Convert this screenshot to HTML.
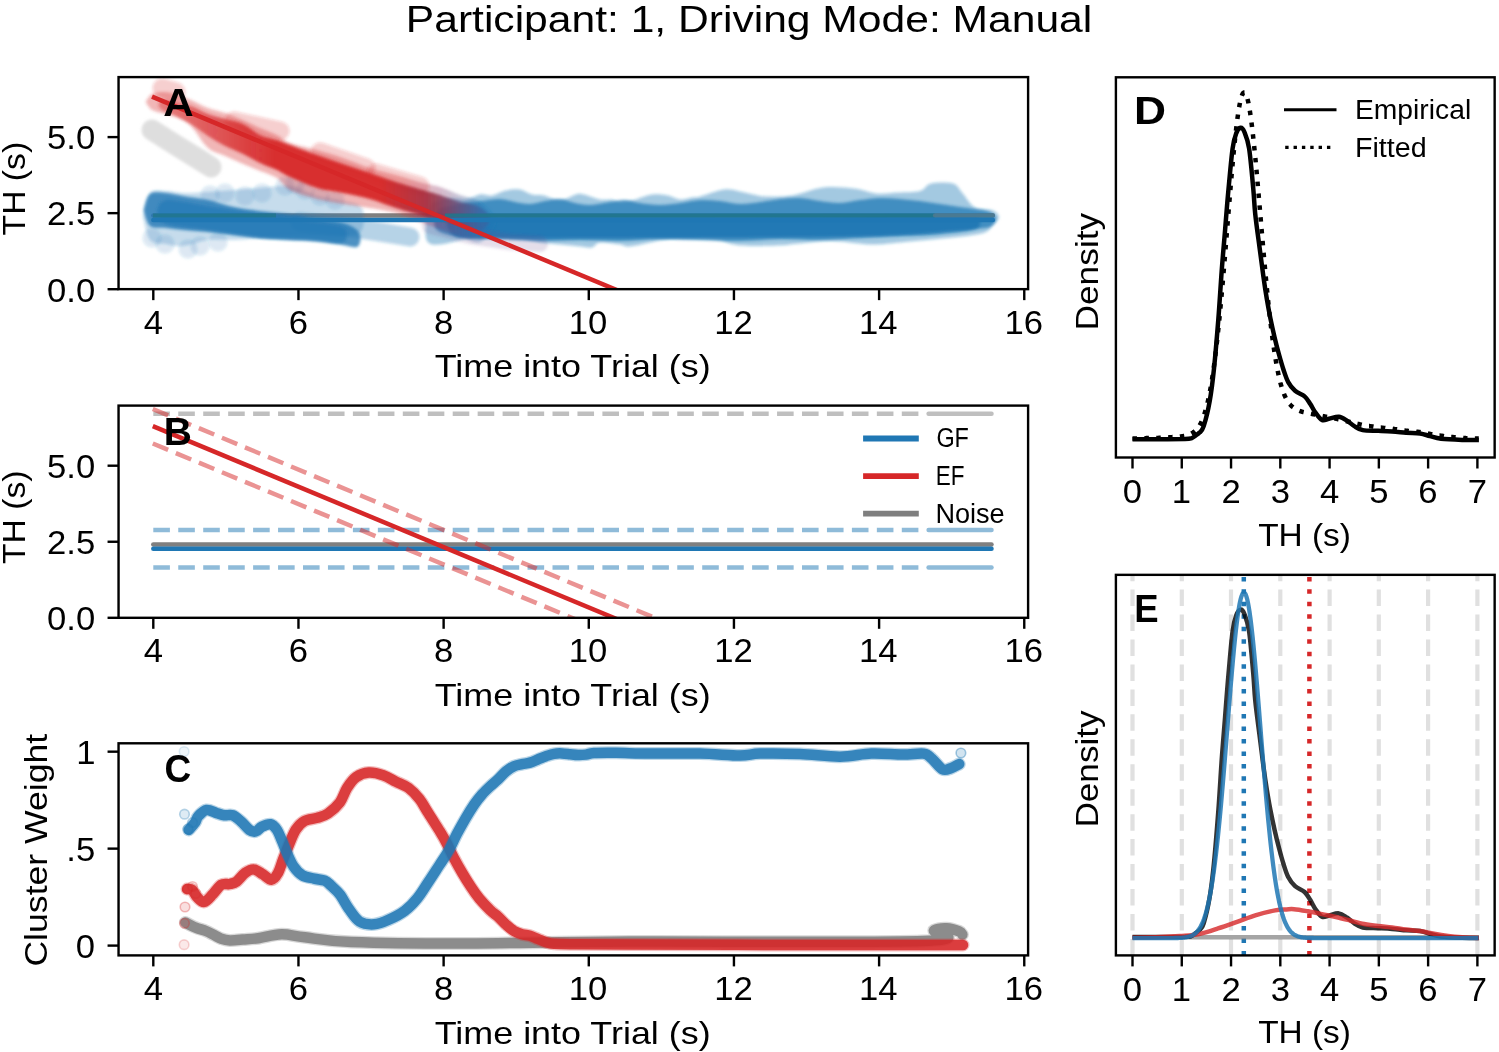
<!DOCTYPE html>
<html><head><meta charset="utf-8"><style>
html,body{margin:0;padding:0;background:#fff;overflow:hidden;width:1499px;height:1052px;}
svg{display:block;will-change:transform;}
text{font-family:"Liberation Sans", sans-serif;}
</style></head><body>
<svg width="1499" height="1052" viewBox="0 0 1499 1052">
<rect width="1499" height="1052" fill="#fff"/>
<defs>
<filter id="bl" filterUnits="userSpaceOnUse" x="0" y="0" width="1499" height="1052"><feGaussianBlur stdDeviation="1.6"/></filter>
<clipPath id="clipA"><rect x="118.55" y="77.10" width="909.55" height="212.05"/></clipPath>
<clipPath id="clipB"><rect x="118.55" y="405.60" width="909.55" height="212.20"/></clipPath>
<clipPath id="clipC"><rect x="118.55" y="743.30" width="909.55" height="212.10"/></clipPath>
<clipPath id="clipD"><rect x="1115.90" y="77.30" width="378.75" height="380.20"/></clipPath>
<clipPath id="clipE"><rect x="1115.90" y="574.85" width="378.75" height="380.55"/></clipPath>
</defs>
<text x="405.81" y="31.60" font-size="36.5" textLength="686.44" lengthAdjust="spacingAndGlyphs" fill="#000">Participant: 1, Driving Mode: Manual</text>
<g clip-path="url(#clipA)">
<line x1="153.3" y1="215.4" x2="992.8" y2="215.4" stroke="#7f7f7f" stroke-width="4.5" stroke-linecap="round"/>
<polyline points="152.0,130.0 174.0,144.0 200.0,160.0 211.0,167.0" fill="none" stroke="#d6d6d6" stroke-width="21" stroke-linecap="round" stroke-linejoin="round" stroke-opacity="0.8" filter="url(#bl)"/>
<path d="M142.9,216.5 C144.1,212.6 146.2,197.2 150.0,193.0 C153.8,188.8 160.5,191.0 166.0,191.0 C171.5,191.0 176.0,192.8 183.0,193.0 C190.0,193.2 199.5,192.5 208.0,192.0 C216.5,191.5 225.3,190.7 234.0,190.0 C242.7,189.3 250.7,188.7 260.0,188.0 C269.3,187.3 280.5,184.7 290.0,186.0 C299.5,187.3 308.2,193.5 317.0,196.0 C325.8,198.5 335.8,199.3 343.0,201.0 C350.2,202.7 356.5,203.0 360.0,206.0 C363.5,209.0 363.9,214.7 363.9,219.0 C363.9,223.3 363.5,229.2 360.0,232.0 C356.5,234.8 350.2,235.3 343.0,236.0 C335.8,236.7 325.8,236.0 317.0,236.0 C308.2,236.0 299.5,235.7 290.0,236.0 C280.5,236.3 269.3,237.3 260.0,238.0 C250.7,238.7 242.7,239.7 234.0,240.0 C225.3,240.3 216.5,239.0 208.0,240.0 C199.5,241.0 190.0,245.3 183.0,246.0 C176.0,246.7 171.5,245.0 166.0,244.0 C160.5,243.0 153.8,244.6 150.0,240.0 C146.2,235.4 144.1,220.4 142.9,216.5 Z" fill="#1f77b4" fill-opacity="0.26" filter="url(#bl)"/>
<polyline points="300.0,222.0 340.0,226.0 380.0,232.0 410.0,237.0" fill="none" stroke="#1f77b4" stroke-width="19" stroke-linecap="round" stroke-linejoin="round" stroke-opacity="0.32" filter="url(#bl)"/>
<circle cx="152" cy="238" r="9.5" fill="#1f77b4" fill-opacity="0.16" filter="url(#bl)"/>
<circle cx="165" cy="244" r="9.5" fill="#1f77b4" fill-opacity="0.16" filter="url(#bl)"/>
<circle cx="188" cy="249" r="9.5" fill="#1f77b4" fill-opacity="0.16" filter="url(#bl)"/>
<circle cx="200" cy="246" r="9.5" fill="#1f77b4" fill-opacity="0.16" filter="url(#bl)"/>
<circle cx="218" cy="242" r="9.5" fill="#1f77b4" fill-opacity="0.16" filter="url(#bl)"/>
<circle cx="210" cy="195" r="9.5" fill="#1f77b4" fill-opacity="0.16" filter="url(#bl)"/>
<circle cx="225" cy="193" r="9.5" fill="#1f77b4" fill-opacity="0.16" filter="url(#bl)"/>
<circle cx="245" cy="196" r="9.5" fill="#1f77b4" fill-opacity="0.16" filter="url(#bl)"/>
<circle cx="262" cy="193" r="9.5" fill="#1f77b4" fill-opacity="0.16" filter="url(#bl)"/>
<circle cx="285" cy="186" r="9.5" fill="#1f77b4" fill-opacity="0.16" filter="url(#bl)"/>
<circle cx="295" cy="184" r="9.5" fill="#1f77b4" fill-opacity="0.16" filter="url(#bl)"/>
<circle cx="305" cy="190" r="9.5" fill="#1f77b4" fill-opacity="0.16" filter="url(#bl)"/>
<circle cx="320" cy="196" r="9.5" fill="#1f77b4" fill-opacity="0.16" filter="url(#bl)"/>
<circle cx="335" cy="200" r="9.5" fill="#1f77b4" fill-opacity="0.16" filter="url(#bl)"/>
<path d="M432.0,202.5 C435.0,201.8 444.3,199.0 450.0,198.5 C455.7,198.0 461.0,200.2 466.0,199.5 C471.0,198.8 475.7,195.2 480.0,194.5 C484.3,193.8 487.7,196.2 492.0,195.5 C496.3,194.8 501.3,191.5 506.0,190.5 C510.7,189.5 515.7,188.8 520.0,189.5 C524.3,190.2 528.0,193.5 532.0,194.5 C536.0,195.5 539.3,194.5 544.0,195.5 C548.7,196.5 554.7,200.7 560.0,200.5 C565.3,200.3 572.0,195.5 576.0,194.5 C580.0,193.5 580.0,193.7 584.0,194.5 C588.0,195.3 595.3,198.7 600.0,199.5 C604.7,200.3 608.7,199.0 612.0,199.5 C615.3,200.0 616.7,202.3 620.0,202.5 C623.3,202.7 626.7,201.8 632.0,200.5 C637.3,199.2 646.0,195.3 652.0,194.5 C658.0,193.7 663.3,194.7 668.0,195.5 C672.7,196.3 676.0,199.2 680.0,199.5 C684.0,199.8 688.7,198.0 692.0,197.5 C695.3,197.0 694.7,197.8 700.0,196.5 C705.3,195.2 717.3,190.3 724.0,189.5 C730.7,188.7 735.2,190.7 740.0,191.5 C744.8,192.3 748.7,193.7 753.0,194.5 C757.3,195.3 759.5,196.3 766.0,196.5 C772.5,196.7 782.5,197.0 792.0,195.5 C801.5,194.0 812.7,188.7 823.0,187.5 C833.3,186.3 845.2,187.5 854.0,188.5 C862.8,189.5 868.7,192.8 876.0,193.5 C883.3,194.2 890.7,192.9 898.0,192.5 C905.3,192.1 914.5,192.5 920.0,191.0 C925.5,189.5 925.5,184.8 931.0,183.5 C936.5,182.2 947.8,182.0 953.0,183.5 C958.2,185.0 958.3,188.5 962.0,192.5 C965.7,196.5 969.8,204.5 975.0,207.5 C980.2,210.5 989.0,208.8 993.0,210.5 C997.0,212.2 999.0,215.2 999.0,217.5 C999.0,219.8 995.2,222.1 993.0,224.5 C990.8,226.9 989.8,230.3 986.0,232.1 C982.2,233.9 977.3,234.4 970.0,235.5 C962.7,236.6 953.7,237.3 942.0,238.5 C930.3,239.7 912.0,241.5 900.0,242.5 C888.0,243.5 881.3,244.8 870.0,244.5 C858.7,244.2 843.7,241.2 832.0,241.0 C820.3,240.8 809.2,242.8 800.0,243.5 C790.8,244.2 787.0,245.2 777.0,245.5 C767.0,245.8 749.5,246.3 740.0,245.5 C730.5,244.7 726.7,241.7 720.0,240.5 C713.3,239.3 706.7,238.8 700.0,238.5 C693.3,238.2 686.7,238.2 680.0,238.5 C673.3,238.8 668.3,239.2 660.0,240.5 C651.7,241.8 636.7,245.8 630.0,246.5 C623.3,247.2 625.0,245.2 620.0,244.5 C615.0,243.8 604.7,242.0 600.0,242.5 C595.3,243.0 595.3,246.8 592.0,247.5 C588.7,248.2 585.3,247.0 580.0,246.5 C574.7,246.0 566.7,245.2 560.0,244.5 C553.3,243.8 546.7,243.5 540.0,242.5 C533.3,241.5 530.0,239.5 520.0,238.5 C510.0,237.5 494.7,235.5 480.0,236.5 C465.3,237.5 441.0,246.7 432.0,244.5 C423.0,242.3 426.0,230.5 426.0,223.5 C426.0,216.5 431.0,206.0 432.0,202.5 Z" fill="#1f77b4" fill-opacity="0.4" filter="url(#bl)"/>
<path d="M143.6,210.0 C144.7,207.3 146.3,196.8 150.0,194.0 C153.7,191.2 160.5,192.7 166.0,193.0 C171.5,193.3 176.0,194.8 183.0,196.0 C190.0,197.2 199.5,198.2 208.0,200.0 C216.5,201.8 225.3,205.2 234.0,207.0 C242.7,208.8 250.7,209.8 260.0,211.0 C269.3,212.2 280.5,212.7 290.0,214.0 C299.5,215.3 308.2,217.5 317.0,219.0 C325.8,220.5 336.3,221.2 343.0,223.0 C349.7,224.8 354.1,227.4 357.0,230.0 C359.9,232.6 360.4,235.7 360.4,238.5 C360.4,241.3 359.9,245.9 357.0,247.0 C354.1,248.1 349.7,246.0 343.0,245.0 C336.3,244.0 325.8,241.8 317.0,241.0 C308.2,240.2 299.5,240.5 290.0,240.0 C280.5,239.5 269.3,238.8 260.0,238.0 C250.7,237.2 242.7,236.0 234.0,235.0 C225.3,234.0 216.5,232.8 208.0,232.0 C199.5,231.2 190.0,230.7 183.0,230.0 C176.0,229.3 171.5,228.7 166.0,228.0 C160.5,227.3 153.7,229.0 150.0,226.0 C146.3,223.0 144.7,212.7 143.6,210.0 Z" fill="#1f77b4" fill-opacity="0.8" filter="url(#bl)"/>
<path d="M156.4,212.0 C158.0,210.0 157.4,201.0 166.0,200.0 C174.6,199.0 192.3,203.7 208.0,206.0 C223.7,208.3 244.7,211.7 260.0,214.0 C275.3,216.3 286.7,218.0 300.0,220.0 C313.3,222.0 332.2,223.6 340.0,226.0 C347.8,228.4 346.8,231.7 346.8,234.5 C346.8,237.3 347.8,242.1 340.0,243.0 C332.2,243.9 313.3,240.8 300.0,240.0 C286.7,239.2 275.3,239.7 260.0,238.0 C244.7,236.3 223.7,232.3 208.0,230.0 C192.3,227.7 174.6,227.0 166.0,224.0 C157.4,221.0 158.0,214.0 156.4,212.0 Z" fill="#1f77b4" fill-opacity="0.62" filter="url(#bl)"/>
<path d="M440.0,208.0 C443.3,207.3 453.3,205.2 460.0,204.0 C466.7,202.8 473.3,201.8 480.0,201.0 C486.7,200.2 494.2,198.8 500.0,199.0 C505.8,199.2 510.0,201.2 515.0,202.0 C520.0,202.8 525.0,204.2 530.0,204.0 C535.0,203.8 540.0,201.8 545.0,201.0 C550.0,200.2 555.0,198.7 560.0,199.0 C565.0,199.3 570.0,202.0 575.0,203.0 C580.0,204.0 584.2,205.2 590.0,205.0 C595.8,204.8 604.2,202.8 610.0,202.0 C615.8,201.2 620.0,199.8 625.0,200.0 C630.0,200.2 634.2,202.2 640.0,203.0 C645.8,203.8 653.3,205.0 660.0,205.0 C666.7,205.0 673.3,203.8 680.0,203.0 C686.7,202.2 693.3,200.3 700.0,200.0 C706.7,199.7 713.3,200.3 720.0,201.0 C726.7,201.7 733.3,203.8 740.0,204.0 C746.7,204.2 753.3,202.8 760.0,202.0 C766.7,201.2 773.3,199.7 780.0,199.0 C786.7,198.3 793.3,197.7 800.0,198.0 C806.7,198.3 813.3,200.2 820.0,201.0 C826.7,201.8 833.3,203.2 840.0,203.0 C846.7,202.8 853.3,200.8 860.0,200.0 C866.7,199.2 873.3,198.2 880.0,198.0 C886.7,197.8 893.3,198.5 900.0,199.0 C906.7,199.5 913.3,200.2 920.0,201.0 C926.7,201.8 933.3,203.0 940.0,204.0 C946.7,205.0 954.2,206.2 960.0,207.0 C965.8,207.8 970.0,208.2 975.0,209.0 C980.0,209.8 986.5,210.2 990.0,212.0 C993.5,213.8 996.0,217.0 996.0,219.5 C996.0,222.0 993.5,225.4 990.0,227.0 C986.5,228.6 980.0,228.2 975.0,229.0 C970.0,229.8 967.5,231.0 960.0,232.0 C952.5,233.0 940.0,234.3 930.0,235.0 C920.0,235.7 911.7,235.5 900.0,236.0 C888.3,236.5 873.3,237.3 860.0,238.0 C846.7,238.7 833.3,239.8 820.0,240.0 C806.7,240.2 793.3,238.8 780.0,239.0 C766.7,239.2 753.3,240.8 740.0,241.0 C726.7,241.2 713.3,240.3 700.0,240.0 C686.7,239.7 673.3,238.8 660.0,239.0 C646.7,239.2 633.3,240.8 620.0,241.0 C606.7,241.2 593.3,240.0 580.0,240.0 C566.7,240.0 553.3,241.2 540.0,241.0 C526.7,240.8 511.7,239.5 500.0,239.0 C488.3,238.5 480.0,239.2 470.0,238.0 C460.0,236.8 446.0,235.0 440.0,232.0 C434.0,229.0 434.0,224.0 434.0,220.0 C434.0,216.0 439.0,210.0 440.0,208.0 Z" fill="#1f77b4" fill-opacity="0.72" filter="url(#bl)"/>
<path d="M446.2,225.0 C447.7,223.2 449.4,215.3 455.0,214.0 C460.6,212.7 455.8,216.3 480.0,217.0 C504.2,217.7 546.7,218.0 600.0,218.0 C653.3,218.0 750.0,217.3 800.0,217.0 C850.0,216.7 875.0,216.2 900.0,216.0 C925.0,215.8 937.5,216.0 950.0,216.0 C962.5,216.0 970.0,214.9 975.0,216.0 C980.0,217.1 980.2,220.3 980.2,222.5 C980.2,224.7 980.0,227.6 975.0,229.0 C970.0,230.4 962.5,230.0 950.0,231.0 C937.5,232.0 925.0,234.0 900.0,235.0 C875.0,236.0 850.0,236.5 800.0,237.0 C750.0,237.5 653.3,237.8 600.0,238.0 C546.7,238.2 504.2,238.3 480.0,238.0 C455.8,237.7 460.6,238.2 455.0,236.0 C449.4,233.8 447.7,226.8 446.2,225.0 Z" fill="#1f77b4" fill-opacity="0.9" filter="url(#bl)"/>
<linearGradient id="rg1" gradientUnits="userSpaceOnUse" x1="400" y1="0" x2="480" y2="0"><stop offset="0" stop-color="#d62728"/><stop offset="0.5" stop-color="#8c3566"/><stop offset="1" stop-color="#1f77b4"/></linearGradient>
<linearGradient id="rg2" gradientUnits="userSpaceOnUse" x1="150" y1="0" x2="480" y2="0"><stop offset="0" stop-color="#d62728" stop-opacity="0.35"/><stop offset="0.12" stop-color="#d62728" stop-opacity="0.55"/><stop offset="0.25" stop-color="#d62728" stop-opacity="0.75"/><stop offset="0.38" stop-color="#d62728" stop-opacity="0.95"/><stop offset="0.7" stop-color="#d62728" stop-opacity="0.95"/><stop offset="0.84" stop-color="#a52a3a" stop-opacity="0.9"/><stop offset="1" stop-color="#3a62a0" stop-opacity="0.75"/></linearGradient>
<path d="M145.6,102.0 C146.7,100.7 148.8,95.7 152.0,94.0 C155.2,92.3 160.7,91.8 165.0,92.0 C169.3,92.2 173.7,93.7 178.0,95.0 C182.3,96.3 186.0,97.8 191.0,100.0 C196.0,102.2 202.3,105.8 208.0,108.0 C213.7,110.2 219.2,111.0 225.0,113.0 C230.8,115.0 237.2,117.5 243.0,120.0 C248.8,122.5 254.3,125.5 260.0,128.0 C265.7,130.5 272.0,132.5 277.0,135.0 C282.0,137.5 283.3,140.5 290.0,143.0 C296.7,145.5 308.2,147.5 317.0,150.0 C325.8,152.5 334.2,155.0 343.0,158.0 C351.8,161.0 361.2,165.2 370.0,168.0 C378.8,170.8 387.2,172.5 396.0,175.0 C404.8,177.5 415.7,181.0 423.0,183.0 C430.3,185.0 433.8,185.0 440.0,187.0 C446.2,189.0 453.3,192.5 460.0,195.0 C466.7,197.5 474.0,197.5 480.0,202.0 C486.0,206.5 496.0,215.3 496.0,222.0 C496.0,228.7 486.0,239.7 480.0,242.0 C474.0,244.3 466.7,238.2 460.0,236.0 C453.3,233.8 446.2,231.2 440.0,229.0 C433.8,226.8 430.3,225.7 423.0,223.0 C415.7,220.3 404.8,215.5 396.0,213.0 C387.2,210.5 378.8,209.5 370.0,208.0 C361.2,206.5 351.8,205.5 343.0,204.0 C334.2,202.5 325.8,201.3 317.0,199.0 C308.2,196.7 296.7,193.5 290.0,190.0 C283.3,186.5 282.0,181.2 277.0,178.0 C272.0,174.8 265.7,173.3 260.0,171.0 C254.3,168.7 248.8,166.5 243.0,164.0 C237.2,161.5 230.8,158.7 225.0,156.0 C219.2,153.3 213.7,153.0 208.0,148.0 C202.3,143.0 196.0,131.0 191.0,126.0 C186.0,121.0 182.3,120.0 178.0,118.0 C173.7,116.0 169.3,115.3 165.0,114.0 C160.7,112.7 155.2,112.0 152.0,110.0 C148.8,108.0 146.7,103.3 145.6,102.0 Z" fill="url(#rg1)" fill-opacity="0.34" filter="url(#bl)"/>
<polyline points="162.0,88.0 176.0,92.0" fill="none" stroke="#d62728" stroke-width="19" stroke-linecap="round" stroke-linejoin="round" stroke-opacity="0.22" filter="url(#bl)"/>
<polyline points="234.0,121.0 280.0,131.0" fill="none" stroke="#d62728" stroke-width="19" stroke-linecap="round" stroke-linejoin="round" stroke-opacity="0.22" filter="url(#bl)"/>
<polyline points="320.0,152.0 366.0,168.0" fill="none" stroke="#d62728" stroke-width="19" stroke-linecap="round" stroke-linejoin="round" stroke-opacity="0.22" filter="url(#bl)"/>
<polyline points="376.0,173.0 420.0,186.0" fill="none" stroke="#d62728" stroke-width="19" stroke-linecap="round" stroke-linejoin="round" stroke-opacity="0.22" filter="url(#bl)"/>
<polyline points="430.0,226.0 470.0,236.0 510.0,242.0 540.0,244.0" fill="none" stroke="#6f4a8a" stroke-width="16" stroke-linecap="round" stroke-linejoin="round" stroke-opacity="0.18" filter="url(#bl)"/>
<g filter="url(#bl)">
<path d="M158.0,105.0 C158.7,104.2 159.7,100.7 162.0,100.0 C164.3,99.3 167.2,100.0 172.0,101.0 C176.8,102.0 185.0,103.8 191.0,106.0 C197.0,108.2 202.3,111.8 208.0,114.0 C213.7,116.2 219.2,117.3 225.0,119.0 C230.8,120.7 237.2,121.3 243.0,124.0 C248.8,126.7 254.3,132.3 260.0,135.0 C265.7,137.7 272.0,138.3 277.0,140.0 C282.0,141.7 283.3,142.5 290.0,145.0 C296.7,147.5 308.2,151.8 317.0,155.0 C325.8,158.2 334.2,161.0 343.0,164.0 C351.8,167.0 361.2,170.0 370.0,173.0 C378.8,176.0 387.2,179.2 396.0,182.0 C404.8,184.8 415.7,187.8 423.0,190.0 C430.3,192.2 433.8,193.0 440.0,195.0 C446.2,197.0 453.3,200.0 460.0,202.0 C466.7,204.0 475.1,204.2 480.0,207.0 C484.9,209.8 489.6,215.0 489.6,219.0 C489.6,223.0 484.9,229.8 480.0,231.0 C475.1,232.2 466.7,227.8 460.0,226.0 C453.3,224.2 446.2,221.7 440.0,220.0 C433.8,218.3 430.3,218.0 423.0,216.0 C415.7,214.0 404.8,210.8 396.0,208.0 C387.2,205.2 378.8,201.5 370.0,199.0 C361.2,196.5 351.8,194.8 343.0,193.0 C334.2,191.2 325.8,190.7 317.0,188.0 C308.2,185.3 296.7,180.0 290.0,177.0 C283.3,174.0 282.0,172.3 277.0,170.0 C272.0,167.7 265.7,165.7 260.0,163.0 C254.3,160.3 248.8,156.8 243.0,154.0 C237.2,151.2 230.8,149.0 225.0,146.0 C219.2,143.0 213.7,139.7 208.0,136.0 C202.3,132.3 197.0,127.7 191.0,124.0 C185.0,120.3 176.8,116.3 172.0,114.0 C167.2,111.7 164.3,111.5 162.0,110.0 C159.7,108.5 158.7,105.8 158.0,105.0 Z" fill="url(#rg2)" fill-opacity="1"/>
</g>
</g>
<g clip-path="url(#clipA)">
<line x1="153" y1="215.4" x2="276" y2="215.4" stroke="#21758c" stroke-width="4" stroke-opacity="0.85"/>
<line x1="445" y1="215.4" x2="935" y2="215.4" stroke="#21758c" stroke-width="4" stroke-opacity="0.9"/>
<line x1="935" y1="215.4" x2="992.8" y2="215.4" stroke="#4f7a8f" stroke-width="4.2" stroke-opacity="0.9" stroke-linecap="round"/>
</g>
<line x1="153.3" y1="220.0" x2="992.8" y2="220.0" stroke="#1f77b4" stroke-width="4.5" stroke-linecap="round"/>
<g clip-path="url(#clipA)">
<line x1="152" y1="96.7" x2="640.7" y2="300" stroke="#d62728" stroke-width="4.5"/>
</g>
<rect x="118.55" y="77.10" width="909.55" height="212.05" fill="none" stroke="#000" stroke-width="2.4" stroke-linejoin="miter"/>
<line x1="153.30" y1="289.15" x2="153.30" y2="300.15" stroke="#000" stroke-width="2.4"/>
<text x="143.77" y="333.70" font-size="33" textLength="19.27" lengthAdjust="spacingAndGlyphs" fill="#000">4</text>
<line x1="298.46" y1="289.15" x2="298.46" y2="300.15" stroke="#000" stroke-width="2.4"/>
<text x="288.71" y="333.70" font-size="33" textLength="19.27" lengthAdjust="spacingAndGlyphs" fill="#000">6</text>
<line x1="443.62" y1="289.15" x2="443.62" y2="300.15" stroke="#000" stroke-width="2.4"/>
<text x="433.98" y="333.70" font-size="33" textLength="19.27" lengthAdjust="spacingAndGlyphs" fill="#000">8</text>
<line x1="588.78" y1="289.15" x2="588.78" y2="300.15" stroke="#000" stroke-width="2.4"/>
<text x="568.87" y="333.70" font-size="33" textLength="38.54" lengthAdjust="spacingAndGlyphs" fill="#000">10</text>
<line x1="733.94" y1="289.15" x2="733.94" y2="300.15" stroke="#000" stroke-width="2.4"/>
<text x="714.22" y="333.70" font-size="33" textLength="38.54" lengthAdjust="spacingAndGlyphs" fill="#000">12</text>
<line x1="879.10" y1="289.15" x2="879.10" y2="300.15" stroke="#000" stroke-width="2.4"/>
<text x="859.02" y="333.70" font-size="33" textLength="38.54" lengthAdjust="spacingAndGlyphs" fill="#000">14</text>
<line x1="1024.26" y1="289.15" x2="1024.26" y2="300.15" stroke="#000" stroke-width="2.4"/>
<text x="1004.43" y="333.70" font-size="33" textLength="38.54" lengthAdjust="spacingAndGlyphs" fill="#000">16</text>
<line x1="107.55" y1="289.20" x2="118.55" y2="289.20" stroke="#000" stroke-width="2.4"/>
<text x="46.99" y="301.52" font-size="33" textLength="48.17" lengthAdjust="spacingAndGlyphs" fill="#000">0.0</text>
<line x1="107.55" y1="213.15" x2="118.55" y2="213.15" stroke="#000" stroke-width="2.4"/>
<text x="47.09" y="225.47" font-size="33" textLength="48.17" lengthAdjust="spacingAndGlyphs" fill="#000">2.5</text>
<line x1="107.55" y1="137.10" x2="118.55" y2="137.10" stroke="#000" stroke-width="2.4"/>
<text x="46.99" y="149.42" font-size="33" textLength="48.17" lengthAdjust="spacingAndGlyphs" fill="#000">5.0</text>
<text x="434.70" y="377.20" font-size="32" textLength="276.00" lengthAdjust="spacingAndGlyphs" fill="#000">Time into Trial (s)</text>
<text transform="translate(25.40,234.70) rotate(-90)" x="-0.76" y="0" font-size="32" textLength="93.55" lengthAdjust="spacingAndGlyphs">TH (s)</text>
<text x="163.35" y="115.80" font-size="39" font-weight="bold" textLength="30.46" lengthAdjust="spacingAndGlyphs" fill="#000">A</text>
<g clip-path="url(#clipB)">
<line x1="153.3" y1="413.8" x2="926.4" y2="413.8" stroke="#7f7f7f" stroke-opacity="0.5" stroke-width="4.5" stroke-dasharray="16.6 8.35"/>
<line x1="928.6" y1="413.8" x2="991.5" y2="413.8" stroke="#7f7f7f" stroke-opacity="0.5" stroke-width="4.5" stroke-linecap="round"/>
<line x1="153.3" y1="530.0" x2="926.4" y2="530.0" stroke="#1f77b4" stroke-opacity="0.5" stroke-width="4.5" stroke-dasharray="16.6 8.35"/>
<line x1="928.6" y1="530.0" x2="991.5" y2="530.0" stroke="#1f77b4" stroke-opacity="0.5" stroke-width="4.5" stroke-linecap="round"/>
<line x1="153.3" y1="567.6" x2="926.4" y2="567.6" stroke="#1f77b4" stroke-opacity="0.5" stroke-width="4.5" stroke-dasharray="16.6 8.35"/>
<line x1="928.6" y1="567.6" x2="991.5" y2="567.6" stroke="#1f77b4" stroke-opacity="0.5" stroke-width="4.5" stroke-linecap="round"/>
<line x1="153.3" y1="544.6" x2="991.5" y2="544.6" stroke="#7f7f7f" stroke-opacity="1" stroke-width="4.5" stroke-linecap="round"/>
<line x1="153.3" y1="548.7" x2="991.5" y2="548.7" stroke="#1f77b4" stroke-opacity="1" stroke-width="4.5" stroke-linecap="round"/>
<line x1="152.8" y1="409.0" x2="708.1" y2="640" stroke="#d62728" stroke-opacity="0.5" stroke-width="4.5" stroke-dasharray="16.6 8.35"/>
<line x1="152.8" y1="443.5" x2="625.2" y2="640" stroke="#d62728" stroke-opacity="0.5" stroke-width="4.5" stroke-dasharray="16.6 8.35"/>
<line x1="152.8" y1="426.1" x2="667.0" y2="640" stroke="#d62728" stroke-opacity="1" stroke-width="4.5"/>
</g>
<line x1="863.1" y1="438.5" x2="918.8" y2="438.5" stroke="#1f77b4" stroke-width="5.8"/>
<line x1="863.1" y1="476.1" x2="918.8" y2="476.1" stroke="#d62728" stroke-width="5.8"/>
<line x1="863.1" y1="513.6" x2="918.8" y2="513.6" stroke="#7f7f7f" stroke-width="5.8"/>
<text x="936.42" y="447.30" font-size="27" textLength="32.52" lengthAdjust="spacingAndGlyphs" fill="#000">GF</text>
<text x="935.75" y="484.70" font-size="27" textLength="28.75" lengthAdjust="spacingAndGlyphs" fill="#000">EF</text>
<text x="935.38" y="522.70" font-size="27" textLength="69.33" lengthAdjust="spacingAndGlyphs" fill="#000">Noise</text>
<rect x="118.55" y="405.60" width="909.55" height="212.20" fill="none" stroke="#000" stroke-width="2.4" stroke-linejoin="miter"/>
<line x1="153.30" y1="617.80" x2="153.30" y2="628.80" stroke="#000" stroke-width="2.4"/>
<text x="143.77" y="662.30" font-size="33" textLength="19.27" lengthAdjust="spacingAndGlyphs" fill="#000">4</text>
<line x1="298.46" y1="617.80" x2="298.46" y2="628.80" stroke="#000" stroke-width="2.4"/>
<text x="288.71" y="662.30" font-size="33" textLength="19.27" lengthAdjust="spacingAndGlyphs" fill="#000">6</text>
<line x1="443.62" y1="617.80" x2="443.62" y2="628.80" stroke="#000" stroke-width="2.4"/>
<text x="433.98" y="662.30" font-size="33" textLength="19.27" lengthAdjust="spacingAndGlyphs" fill="#000">8</text>
<line x1="588.78" y1="617.80" x2="588.78" y2="628.80" stroke="#000" stroke-width="2.4"/>
<text x="568.87" y="662.30" font-size="33" textLength="38.54" lengthAdjust="spacingAndGlyphs" fill="#000">10</text>
<line x1="733.94" y1="617.80" x2="733.94" y2="628.80" stroke="#000" stroke-width="2.4"/>
<text x="714.22" y="662.30" font-size="33" textLength="38.54" lengthAdjust="spacingAndGlyphs" fill="#000">12</text>
<line x1="879.10" y1="617.80" x2="879.10" y2="628.80" stroke="#000" stroke-width="2.4"/>
<text x="859.02" y="662.30" font-size="33" textLength="38.54" lengthAdjust="spacingAndGlyphs" fill="#000">14</text>
<line x1="1024.26" y1="617.80" x2="1024.26" y2="628.80" stroke="#000" stroke-width="2.4"/>
<text x="1004.43" y="662.30" font-size="33" textLength="38.54" lengthAdjust="spacingAndGlyphs" fill="#000">16</text>
<line x1="107.55" y1="617.80" x2="118.55" y2="617.80" stroke="#000" stroke-width="2.4"/>
<text x="46.99" y="630.12" font-size="33" textLength="48.17" lengthAdjust="spacingAndGlyphs" fill="#000">0.0</text>
<line x1="107.55" y1="541.75" x2="118.55" y2="541.75" stroke="#000" stroke-width="2.4"/>
<text x="47.09" y="554.07" font-size="33" textLength="48.17" lengthAdjust="spacingAndGlyphs" fill="#000">2.5</text>
<line x1="107.55" y1="465.70" x2="118.55" y2="465.70" stroke="#000" stroke-width="2.4"/>
<text x="46.99" y="478.02" font-size="33" textLength="48.17" lengthAdjust="spacingAndGlyphs" fill="#000">5.0</text>
<text x="434.70" y="705.80" font-size="32" textLength="276.00" lengthAdjust="spacingAndGlyphs" fill="#000">Time into Trial (s)</text>
<text transform="translate(25.40,563.30) rotate(-90)" x="-0.76" y="0" font-size="32" textLength="93.55" lengthAdjust="spacingAndGlyphs">TH (s)</text>
<text x="163.69" y="445.10" font-size="39" font-weight="bold" textLength="28.18" lengthAdjust="spacingAndGlyphs" fill="#000">B</text>
<g clip-path="url(#clipC)">
<path d="M185.4,922.4 C187.1,923.3 192.3,926.2 195.7,927.6 C199.1,929.0 202.8,929.7 205.9,931.0 C209.0,932.3 211.9,934.0 214.5,935.3 C217.1,936.6 218.7,937.9 221.3,938.7 C223.9,939.6 226.3,940.2 229.9,940.4 C233.5,940.5 238.0,940.0 242.7,939.6 C247.4,939.2 251.7,939.2 258.1,938.3 C264.6,937.4 273.6,934.5 281.4,934.3 C289.2,934.1 293.1,936.0 304.8,937.3 C316.5,938.6 324.3,941.0 351.5,942.0 C378.7,943.0 421.8,943.6 468.2,943.5 C514.6,943.4 554.1,941.9 630.0,941.5 C705.9,941.1 873.0,942.9 923.7,941.0 C974.4,939.1 930.3,932.4 934.1,930.3 C937.9,928.2 942.5,928.0 946.7,928.2 C950.9,928.4 956.6,930.4 959.2,931.4 C961.8,932.4 961.9,934.0 962.4,934.5" fill="none" stroke="#7f7f7f" stroke-width="13" stroke-opacity="0.3" stroke-linecap="round" stroke-linejoin="round"/>
<path d="M185.4,922.4 C187.1,923.3 192.3,926.2 195.7,927.6 C199.1,929.0 202.8,929.7 205.9,931.0 C209.0,932.3 211.9,934.0 214.5,935.3 C217.1,936.6 218.7,937.9 221.3,938.7 C223.9,939.6 226.3,940.2 229.9,940.4 C233.5,940.5 238.0,940.0 242.7,939.6 C247.4,939.2 251.7,939.2 258.1,938.3 C264.6,937.4 273.6,934.5 281.4,934.3 C289.2,934.1 293.1,936.0 304.8,937.3 C316.5,938.6 324.3,941.0 351.5,942.0 C378.7,943.0 421.8,943.6 468.2,943.5 C514.6,943.4 554.1,941.9 630.0,941.5 C705.9,941.1 873.0,942.9 923.7,941.0 C974.4,939.1 930.3,932.4 934.1,930.3 C937.9,928.2 942.5,928.0 946.7,928.2 C950.9,928.4 956.6,930.4 959.2,931.4 C961.8,932.4 961.9,934.0 962.4,934.5" fill="none" stroke="#7f7f7f" stroke-width="10.5" stroke-opacity="0.85" stroke-linecap="round" stroke-linejoin="round"/>
<path d="M187.1,889.1 C187.9,889.2 190.5,888.7 192.2,890.0 C193.8,891.3 195.0,895.0 197.0,897.0 C199.0,899.0 201.6,902.4 204.2,901.9 C206.8,901.4 210.0,897.1 212.8,894.2 C215.7,891.4 218.5,886.5 221.3,884.8 C224.2,883.1 227.3,884.6 229.9,884.0 C232.5,883.4 234.1,883.3 236.7,881.4 C239.3,879.5 242.5,874.8 245.3,872.8 C248.2,870.8 250.9,869.1 253.8,869.4 C256.7,869.6 260.0,872.6 262.9,874.3 C265.8,876.0 268.9,879.9 271.4,879.7 C273.9,879.5 275.9,876.7 277.8,873.3 C279.8,869.9 281.2,864.4 283.1,859.4 C285.1,854.4 287.4,848.4 289.5,843.4 C291.6,838.4 293.4,833.2 295.9,829.5 C298.4,825.8 300.9,823.0 304.5,821.0 C308.1,819.0 313.4,819.0 317.3,817.8 C321.2,816.5 324.2,816.1 328.0,813.5 C331.8,810.9 336.7,806.7 339.9,802.4 C343.1,798.1 344.4,792.1 347.1,787.9 C349.8,783.7 352.5,779.6 356.1,777.1 C359.7,774.6 364.3,772.9 368.8,772.6 C373.3,772.3 378.7,773.8 383.2,775.3 C387.7,776.8 391.6,779.5 395.8,781.6 C400.0,783.7 404.6,785.0 408.5,787.9 C412.4,790.8 416.0,794.6 419.3,798.8 C422.6,803.0 424.9,807.8 428.4,813.2 C431.8,818.7 436.9,826.5 440.0,831.5 C443.1,836.5 444.5,839.1 446.8,843.5 C449.1,847.9 451.1,852.7 453.7,857.6 C456.3,862.5 459.4,868.1 462.3,873.0 C465.2,877.9 468.0,882.4 470.8,886.7 C473.6,891.0 476.2,894.8 479.4,898.7 C482.6,902.6 486.9,907.0 490.0,910.0 C493.1,913.0 495.3,914.2 498.0,916.6 C500.7,919.0 503.3,922.2 506.0,924.6 C508.7,927.0 511.3,929.4 514.0,931.0 C516.7,932.6 519.3,933.4 522.0,934.2 C524.7,935.0 527.3,935.0 530.0,935.8 C532.7,936.6 535.3,937.9 538.0,939.0 C540.7,940.1 543.3,941.4 546.0,942.2 C548.7,943.0 550.0,943.5 554.0,943.8 C558.0,944.1 557.3,944.1 570.0,944.2 C582.7,944.3 591.7,944.4 630.0,944.5 C668.3,944.6 744.5,944.9 800.0,945.0 C855.5,945.1 935.8,945.0 963.0,945.0" fill="none" stroke="#d62728" stroke-width="13" stroke-opacity="0.3" stroke-linecap="round" stroke-linejoin="round"/>
<path d="M187.1,889.1 C187.9,889.2 190.5,888.7 192.2,890.0 C193.8,891.3 195.0,895.0 197.0,897.0 C199.0,899.0 201.6,902.4 204.2,901.9 C206.8,901.4 210.0,897.1 212.8,894.2 C215.7,891.4 218.5,886.5 221.3,884.8 C224.2,883.1 227.3,884.6 229.9,884.0 C232.5,883.4 234.1,883.3 236.7,881.4 C239.3,879.5 242.5,874.8 245.3,872.8 C248.2,870.8 250.9,869.1 253.8,869.4 C256.7,869.6 260.0,872.6 262.9,874.3 C265.8,876.0 268.9,879.9 271.4,879.7 C273.9,879.5 275.9,876.7 277.8,873.3 C279.8,869.9 281.2,864.4 283.1,859.4 C285.1,854.4 287.4,848.4 289.5,843.4 C291.6,838.4 293.4,833.2 295.9,829.5 C298.4,825.8 300.9,823.0 304.5,821.0 C308.1,819.0 313.4,819.0 317.3,817.8 C321.2,816.5 324.2,816.1 328.0,813.5 C331.8,810.9 336.7,806.7 339.9,802.4 C343.1,798.1 344.4,792.1 347.1,787.9 C349.8,783.7 352.5,779.6 356.1,777.1 C359.7,774.6 364.3,772.9 368.8,772.6 C373.3,772.3 378.7,773.8 383.2,775.3 C387.7,776.8 391.6,779.5 395.8,781.6 C400.0,783.7 404.6,785.0 408.5,787.9 C412.4,790.8 416.0,794.6 419.3,798.8 C422.6,803.0 424.9,807.8 428.4,813.2 C431.8,818.7 436.9,826.5 440.0,831.5 C443.1,836.5 444.5,839.1 446.8,843.5 C449.1,847.9 451.1,852.7 453.7,857.6 C456.3,862.5 459.4,868.1 462.3,873.0 C465.2,877.9 468.0,882.4 470.8,886.7 C473.6,891.0 476.2,894.8 479.4,898.7 C482.6,902.6 486.9,907.0 490.0,910.0 C493.1,913.0 495.3,914.2 498.0,916.6 C500.7,919.0 503.3,922.2 506.0,924.6 C508.7,927.0 511.3,929.4 514.0,931.0 C516.7,932.6 519.3,933.4 522.0,934.2 C524.7,935.0 527.3,935.0 530.0,935.8 C532.7,936.6 535.3,937.9 538.0,939.0 C540.7,940.1 543.3,941.4 546.0,942.2 C548.7,943.0 550.0,943.5 554.0,943.8 C558.0,944.1 557.3,944.1 570.0,944.2 C582.7,944.3 591.7,944.4 630.0,944.5 C668.3,944.6 744.5,944.9 800.0,945.0 C855.5,945.1 935.8,945.0 963.0,945.0" fill="none" stroke="#d62728" stroke-width="10.5" stroke-opacity="0.85" stroke-linecap="round" stroke-linejoin="round"/>
<path d="M188.8,829.9 C189.9,828.7 193.5,824.9 195.1,822.6 C196.7,820.3 196.3,818.4 198.2,816.3 C200.1,814.2 203.5,810.5 206.6,810.0 C209.7,809.5 214.0,812.3 217.0,813.2 C220.0,814.1 221.8,814.9 224.4,815.3 C227.0,815.6 229.9,814.3 232.7,815.3 C235.5,816.3 238.3,819.1 241.1,821.5 C243.9,823.9 247.0,828.2 249.4,829.9 C251.8,831.6 253.6,832.0 255.7,831.5 C257.8,831.0 259.4,828.0 261.8,826.8 C264.2,825.6 267.8,823.8 270.3,824.2 C272.8,824.7 274.7,826.7 276.7,829.5 C278.7,832.3 280.3,837.1 282.1,841.2 C283.9,845.3 285.4,849.7 287.4,854.0 C289.3,858.3 291.3,863.2 293.8,866.8 C296.3,870.4 299.0,873.4 302.4,875.4 C305.8,877.4 310.4,877.7 314.1,878.6 C317.8,879.5 322.0,879.6 324.8,880.7 C327.6,881.8 328.3,883.1 330.8,885.4 C333.3,887.7 336.9,890.6 339.9,894.5 C342.9,898.4 345.6,904.4 348.9,908.9 C352.2,913.4 355.5,919.0 359.7,921.6 C363.9,924.2 369.4,924.6 374.2,924.3 C379.0,924.0 383.5,922.1 388.6,919.8 C393.7,917.5 400.1,914.3 404.9,910.7 C409.7,907.1 413.6,902.9 417.5,898.1 C421.4,893.3 424.7,887.5 428.4,882.0 C432.1,876.5 436.1,870.2 439.5,865.0 C442.9,859.8 445.7,856.0 448.6,850.8 C451.5,845.6 454.2,839.0 457.1,833.6 C460.0,828.2 462.9,823.1 465.7,818.2 C468.5,813.4 471.5,808.5 474.2,804.5 C476.9,800.5 479.4,797.5 482.0,794.5 C484.6,791.5 487.3,789.0 490.0,786.5 C492.7,784.0 495.3,781.9 498.0,779.4 C500.7,776.9 503.3,773.6 506.0,771.4 C508.7,769.2 511.3,767.4 514.0,766.2 C516.7,765.0 519.3,764.8 522.0,764.2 C524.7,763.6 527.3,763.4 530.0,762.6 C532.7,761.8 535.3,760.5 538.0,759.4 C540.7,758.3 543.3,757.1 546.0,756.2 C548.7,755.3 551.3,754.3 554.0,753.8 C556.7,753.3 559.3,753.3 562.0,753.4 C564.7,753.5 567.3,753.9 570.0,754.2 C572.7,754.5 575.3,754.9 578.0,755.0 C580.7,755.1 583.3,754.9 586.0,754.6 C588.7,754.3 588.9,753.3 594.0,753.0 C599.1,752.7 607.1,752.7 616.4,752.8 C625.7,752.9 636.1,753.5 650.0,753.6 C663.9,753.7 685.0,753.3 700.0,753.6 C715.0,753.9 730.0,755.5 740.0,755.5 C750.0,755.5 750.0,753.9 760.0,753.6 C770.0,753.4 786.7,753.5 800.0,754.0 C813.3,754.5 828.1,756.8 840.0,756.7 C851.9,756.6 860.9,754.0 871.4,753.6 C881.9,753.2 894.0,754.6 902.7,754.6 C911.4,754.6 918.8,752.9 923.7,753.6 C928.6,754.3 928.9,756.2 932.0,758.8 C935.1,761.4 939.4,767.7 942.5,769.3 C945.6,770.9 948.1,769.1 950.9,768.2 C953.7,767.3 957.8,764.8 959.2,764.1" fill="none" stroke="#1f77b4" stroke-width="13" stroke-opacity="0.3" stroke-linecap="round" stroke-linejoin="round"/>
<path d="M188.8,829.9 C189.9,828.7 193.5,824.9 195.1,822.6 C196.7,820.3 196.3,818.4 198.2,816.3 C200.1,814.2 203.5,810.5 206.6,810.0 C209.7,809.5 214.0,812.3 217.0,813.2 C220.0,814.1 221.8,814.9 224.4,815.3 C227.0,815.6 229.9,814.3 232.7,815.3 C235.5,816.3 238.3,819.1 241.1,821.5 C243.9,823.9 247.0,828.2 249.4,829.9 C251.8,831.6 253.6,832.0 255.7,831.5 C257.8,831.0 259.4,828.0 261.8,826.8 C264.2,825.6 267.8,823.8 270.3,824.2 C272.8,824.7 274.7,826.7 276.7,829.5 C278.7,832.3 280.3,837.1 282.1,841.2 C283.9,845.3 285.4,849.7 287.4,854.0 C289.3,858.3 291.3,863.2 293.8,866.8 C296.3,870.4 299.0,873.4 302.4,875.4 C305.8,877.4 310.4,877.7 314.1,878.6 C317.8,879.5 322.0,879.6 324.8,880.7 C327.6,881.8 328.3,883.1 330.8,885.4 C333.3,887.7 336.9,890.6 339.9,894.5 C342.9,898.4 345.6,904.4 348.9,908.9 C352.2,913.4 355.5,919.0 359.7,921.6 C363.9,924.2 369.4,924.6 374.2,924.3 C379.0,924.0 383.5,922.1 388.6,919.8 C393.7,917.5 400.1,914.3 404.9,910.7 C409.7,907.1 413.6,902.9 417.5,898.1 C421.4,893.3 424.7,887.5 428.4,882.0 C432.1,876.5 436.1,870.2 439.5,865.0 C442.9,859.8 445.7,856.0 448.6,850.8 C451.5,845.6 454.2,839.0 457.1,833.6 C460.0,828.2 462.9,823.1 465.7,818.2 C468.5,813.4 471.5,808.5 474.2,804.5 C476.9,800.5 479.4,797.5 482.0,794.5 C484.6,791.5 487.3,789.0 490.0,786.5 C492.7,784.0 495.3,781.9 498.0,779.4 C500.7,776.9 503.3,773.6 506.0,771.4 C508.7,769.2 511.3,767.4 514.0,766.2 C516.7,765.0 519.3,764.8 522.0,764.2 C524.7,763.6 527.3,763.4 530.0,762.6 C532.7,761.8 535.3,760.5 538.0,759.4 C540.7,758.3 543.3,757.1 546.0,756.2 C548.7,755.3 551.3,754.3 554.0,753.8 C556.7,753.3 559.3,753.3 562.0,753.4 C564.7,753.5 567.3,753.9 570.0,754.2 C572.7,754.5 575.3,754.9 578.0,755.0 C580.7,755.1 583.3,754.9 586.0,754.6 C588.7,754.3 588.9,753.3 594.0,753.0 C599.1,752.7 607.1,752.7 616.4,752.8 C625.7,752.9 636.1,753.5 650.0,753.6 C663.9,753.7 685.0,753.3 700.0,753.6 C715.0,753.9 730.0,755.5 740.0,755.5 C750.0,755.5 750.0,753.9 760.0,753.6 C770.0,753.4 786.7,753.5 800.0,754.0 C813.3,754.5 828.1,756.8 840.0,756.7 C851.9,756.6 860.9,754.0 871.4,753.6 C881.9,753.2 894.0,754.6 902.7,754.6 C911.4,754.6 918.8,752.9 923.7,753.6 C928.6,754.3 928.9,756.2 932.0,758.8 C935.1,761.4 939.4,767.7 942.5,769.3 C945.6,770.9 948.1,769.1 950.9,768.2 C953.7,767.3 957.8,764.8 959.2,764.1" fill="none" stroke="#1f77b4" stroke-width="10.5" stroke-opacity="0.85" stroke-linecap="round" stroke-linejoin="round"/>
<circle cx="184.1" cy="751.5" r="4.8" fill="#1f77b4" fill-opacity="0.075" stroke="#1f77b4" stroke-opacity="0.15" stroke-width="1.6"/>
<circle cx="184.5" cy="814.2" r="4.8" fill="#1f77b4" fill-opacity="0.15" stroke="#1f77b4" stroke-opacity="0.3" stroke-width="1.6"/>
<circle cx="188.0" cy="829.0" r="4.8" fill="#1f77b4" fill-opacity="0.15" stroke="#1f77b4" stroke-opacity="0.3" stroke-width="1.6"/>
<circle cx="192.5" cy="822.5" r="4.8" fill="#1f77b4" fill-opacity="0.125" stroke="#1f77b4" stroke-opacity="0.25" stroke-width="1.6"/>
<circle cx="187.5" cy="889.0" r="4.8" fill="#d62728" fill-opacity="0.15" stroke="#d62728" stroke-opacity="0.3" stroke-width="1.6"/>
<circle cx="192.5" cy="886.5" r="4.8" fill="#d62728" fill-opacity="0.125" stroke="#d62728" stroke-opacity="0.25" stroke-width="1.6"/>
<circle cx="195.7" cy="893.5" r="4.8" fill="#d62728" fill-opacity="0.125" stroke="#d62728" stroke-opacity="0.25" stroke-width="1.6"/>
<circle cx="185.0" cy="907.0" r="4.8" fill="#d62728" fill-opacity="0.15" stroke="#d62728" stroke-opacity="0.3" stroke-width="1.6"/>
<circle cx="184.5" cy="923.3" r="4.8" fill="#d62728" fill-opacity="0.15" stroke="#d62728" stroke-opacity="0.3" stroke-width="1.6"/>
<circle cx="184.1" cy="944.7" r="4.8" fill="#d62728" fill-opacity="0.1" stroke="#d62728" stroke-opacity="0.2" stroke-width="1.6"/>
<circle cx="960.9" cy="753.0" r="4.8" fill="#1f77b4" fill-opacity="0.2" stroke="#1f77b4" stroke-opacity="0.4" stroke-width="1.6"/>
</g>
<rect x="118.55" y="743.30" width="909.55" height="212.10" fill="none" stroke="#000" stroke-width="2.4" stroke-linejoin="miter"/>
<line x1="153.30" y1="955.40" x2="153.30" y2="966.40" stroke="#000" stroke-width="2.4"/>
<text x="143.77" y="1000.00" font-size="33" textLength="19.27" lengthAdjust="spacingAndGlyphs" fill="#000">4</text>
<line x1="298.46" y1="955.40" x2="298.46" y2="966.40" stroke="#000" stroke-width="2.4"/>
<text x="288.71" y="1000.00" font-size="33" textLength="19.27" lengthAdjust="spacingAndGlyphs" fill="#000">6</text>
<line x1="443.62" y1="955.40" x2="443.62" y2="966.40" stroke="#000" stroke-width="2.4"/>
<text x="433.98" y="1000.00" font-size="33" textLength="19.27" lengthAdjust="spacingAndGlyphs" fill="#000">8</text>
<line x1="588.78" y1="955.40" x2="588.78" y2="966.40" stroke="#000" stroke-width="2.4"/>
<text x="568.87" y="1000.00" font-size="33" textLength="38.54" lengthAdjust="spacingAndGlyphs" fill="#000">10</text>
<line x1="733.94" y1="955.40" x2="733.94" y2="966.40" stroke="#000" stroke-width="2.4"/>
<text x="714.22" y="1000.00" font-size="33" textLength="38.54" lengthAdjust="spacingAndGlyphs" fill="#000">12</text>
<line x1="879.10" y1="955.40" x2="879.10" y2="966.40" stroke="#000" stroke-width="2.4"/>
<text x="859.02" y="1000.00" font-size="33" textLength="38.54" lengthAdjust="spacingAndGlyphs" fill="#000">14</text>
<line x1="1024.26" y1="955.40" x2="1024.26" y2="966.40" stroke="#000" stroke-width="2.4"/>
<text x="1004.43" y="1000.00" font-size="33" textLength="38.54" lengthAdjust="spacingAndGlyphs" fill="#000">16</text>
<line x1="107.55" y1="945.60" x2="118.55" y2="945.60" stroke="#000" stroke-width="2.4"/>
<text x="75.88" y="957.92" font-size="33" textLength="19.27" lengthAdjust="spacingAndGlyphs" fill="#000">0</text>
<line x1="107.55" y1="848.63" x2="118.55" y2="848.63" stroke="#000" stroke-width="2.4"/>
<text x="66.36" y="860.95" font-size="33" textLength="28.90" lengthAdjust="spacingAndGlyphs" fill="#000">.5</text>
<line x1="107.55" y1="751.67" x2="118.55" y2="751.67" stroke="#000" stroke-width="2.4"/>
<text x="76.22" y="763.99" font-size="33" textLength="19.27" lengthAdjust="spacingAndGlyphs" fill="#000">1</text>
<text x="434.70" y="1043.50" font-size="32" textLength="276.00" lengthAdjust="spacingAndGlyphs" fill="#000">Time into Trial (s)</text>
<text transform="translate(46.60,964.80) rotate(-90)" x="-1.80" y="0" font-size="32" textLength="232.86" lengthAdjust="spacingAndGlyphs">Cluster Weight</text>
<text x="164.38" y="782.30" font-size="39" font-weight="bold" textLength="26.73" lengthAdjust="spacingAndGlyphs" fill="#000">C</text>
<g clip-path="url(#clipD)">
<path d="M1132.5,439.2 C1137.1,439.2 1151.2,439.2 1160.0,439.2 C1168.8,439.1 1179.8,439.1 1185.0,439.0 C1190.2,438.8 1189.7,438.8 1191.4,438.3 C1193.1,437.8 1193.8,436.9 1195.1,435.9 C1196.4,435.0 1198.1,434.2 1199.5,432.6 C1200.9,431.0 1202.0,431.4 1203.7,426.1 C1205.4,420.9 1208.0,410.7 1209.7,401.1 C1211.4,391.5 1212.6,382.1 1214.0,368.5 C1215.4,354.9 1217.0,336.0 1218.3,319.7 C1219.6,303.4 1220.6,285.8 1221.7,270.8 C1222.8,255.9 1224.0,243.5 1225.1,229.9 C1226.2,216.3 1227.2,202.7 1228.5,189.1 C1229.8,175.6 1231.3,157.9 1232.6,148.5 C1233.9,139.2 1235.1,136.4 1236.4,132.9 C1237.7,129.5 1239.3,128.0 1240.6,127.8 C1241.9,127.6 1243.0,128.5 1244.4,132.0 C1245.8,135.4 1247.6,139.0 1249.1,148.5 C1250.6,158.1 1252.3,178.3 1253.3,189.1 C1254.3,200.0 1254.2,204.1 1255.2,213.8 C1256.2,223.4 1258.1,236.6 1259.5,247.1 C1260.9,257.5 1262.2,267.8 1263.4,276.5 C1264.6,285.3 1265.7,292.4 1266.9,299.4 C1268.1,306.3 1269.1,312.0 1270.4,318.4 C1271.7,324.7 1273.2,331.4 1274.6,337.4 C1276.0,343.4 1277.5,349.1 1279.0,354.5 C1280.5,359.9 1282.0,365.1 1283.5,369.7 C1285.0,374.3 1286.3,378.6 1288.2,382.1 C1290.1,385.6 1292.4,388.5 1295.1,390.8 C1297.8,393.2 1302.1,394.2 1304.6,396.4 C1307.1,398.5 1308.5,401.2 1310.3,404.0 C1312.1,406.7 1313.5,410.1 1315.5,412.7 C1317.5,415.4 1319.8,418.9 1322.0,419.9 C1324.2,421.0 1326.2,419.3 1329.0,418.8 C1331.8,418.3 1335.8,416.4 1338.8,416.7 C1341.8,417.0 1344.6,419.2 1347.2,420.8 C1349.8,422.4 1351.7,424.6 1354.3,426.1 C1356.9,427.7 1358.7,429.3 1362.7,430.1 C1366.7,430.9 1373.2,430.6 1378.1,430.8 C1383.0,431.0 1387.4,431.1 1392.1,431.5 C1396.8,431.8 1401.4,432.4 1406.1,432.8 C1410.8,433.1 1416.1,432.9 1420.1,433.4 C1424.1,434.0 1426.4,435.2 1429.9,436.1 C1433.4,437.0 1435.7,438.1 1441.1,438.8 C1446.5,439.4 1455.8,439.7 1462.1,439.9 C1468.4,440.1 1476.1,440.1 1478.9,440.1" fill="none" stroke="#000" stroke-width="4.5" stroke-linejoin="round"/>
<polyline points="1132.5,438.5 1133.0,438.5 1133.5,438.5 1134.0,438.5 1134.5,438.4 1135.0,438.4 1135.5,438.4 1136.0,438.4 1136.5,438.4 1137.0,438.4 1137.5,438.4 1138.0,438.4 1138.5,438.3 1139.0,438.3 1139.5,438.3 1140.0,438.3 1140.5,438.3 1141.0,438.3 1141.5,438.3 1142.0,438.3 1142.5,438.2 1143.0,438.2 1143.5,438.2 1144.0,438.2 1144.5,438.2 1145.0,438.2 1145.5,438.2 1146.0,438.2 1146.5,438.1 1147.0,438.1 1147.5,438.1 1148.0,438.1 1148.5,438.1 1149.0,438.1 1149.5,438.1 1150.0,438.1 1150.5,438.1 1151.0,438.0 1151.5,438.0 1152.0,438.0 1152.5,438.0 1153.0,438.0 1153.5,438.0 1154.0,438.0 1154.5,438.0 1155.0,437.9 1155.5,437.9 1156.0,437.9 1156.5,437.9 1157.0,437.9 1157.5,437.9 1158.0,437.9 1158.5,437.9 1159.0,437.8 1159.5,437.8 1160.0,437.8 1160.5,437.8 1161.0,437.8 1161.5,437.7 1162.0,437.7 1162.5,437.7 1163.0,437.7 1163.5,437.6 1164.0,437.6 1164.5,437.6 1165.0,437.6 1165.5,437.5 1166.0,437.5 1166.5,437.5 1167.0,437.4 1167.5,437.4 1168.0,437.4 1168.5,437.4 1169.0,437.3 1169.5,437.3 1170.0,437.3 1170.5,437.3 1171.0,437.2 1171.5,437.2 1172.0,437.2 1172.5,437.1 1173.0,437.1 1173.5,437.1 1174.0,437.0 1174.5,437.0 1175.0,437.0 1175.5,436.9 1176.0,436.9 1176.5,436.9 1177.0,436.8 1177.5,436.8 1178.0,436.8 1178.5,436.7 1179.0,436.7 1179.5,436.6 1180.0,436.6 1180.5,436.5 1181.0,436.4 1181.5,436.4 1182.0,436.3 1182.5,436.2 1183.0,436.1 1183.5,436.0 1184.0,435.9 1184.5,435.8 1185.0,435.7 1185.5,435.6 1186.0,435.5 1186.5,435.3 1187.0,435.2 1187.5,435.0 1188.0,434.9 1188.5,434.7 1189.0,434.5 1189.5,434.3 1190.0,434.1 1190.5,433.9 1191.0,433.7 1191.5,433.4 1192.0,433.2 1192.5,432.9 1193.0,432.6 1193.5,432.2 1194.0,431.9 1194.5,431.5 1195.0,431.1 1195.5,430.6 1196.0,430.1 1196.5,429.6 1197.0,429.1 1197.5,428.5 1198.0,427.9 1198.5,427.2 1199.0,426.5 1199.5,425.6 1200.0,424.7 1200.5,423.8 1201.0,422.7 1201.5,421.7 1202.0,420.5 1202.5,419.3 1203.0,418.0 1203.5,416.7 1204.0,415.3 1204.5,413.8 1205.0,412.2 1205.5,410.5 1206.0,408.7 1206.5,406.9 1207.0,404.9 1207.5,402.9 1208.0,400.7 1208.5,398.4 1209.0,396.1 1209.5,393.6 1210.0,391.0 1210.5,388.3 1211.0,385.4 1211.5,382.5 1212.0,379.4 1212.5,376.2 1213.0,372.9 1213.5,369.4 1214.0,365.8 1214.5,362.1 1215.0,358.2 1215.5,354.2 1216.0,350.1 1216.5,345.8 1217.0,341.4 1217.5,336.9 1218.0,332.3 1218.5,327.5 1219.0,322.5 1219.5,317.5 1220.0,312.3 1220.5,307.1 1221.0,301.7 1221.5,296.2 1222.0,290.6 1222.5,284.9 1223.0,279.2 1223.5,273.3 1224.0,267.4 1224.5,261.4 1225.0,255.4 1225.5,249.3 1226.0,243.2 1226.5,237.1 1227.0,230.9 1227.5,224.7 1228.0,218.6 1228.5,212.4 1229.0,206.3 1229.5,200.2 1230.0,194.2 1230.5,188.2 1231.0,182.3 1231.5,176.5 1232.0,170.8 1232.5,165.2 1233.0,159.8 1233.5,154.4 1234.0,149.3 1234.5,144.2 1235.0,139.4 1235.5,134.7 1236.0,130.2 1236.5,126.0 1237.0,121.9 1237.5,118.1 1238.0,114.5 1238.5,111.2 1239.0,108.1 1239.5,105.2 1240.0,102.7 1240.5,100.4 1241.0,98.4 1241.5,96.6 1242.0,95.2 1242.5,94.1 1243.0,93.2 1243.5,92.7 1244.0,92.4 1244.5,92.4 1245.0,92.8 1245.5,93.4 1246.0,94.3 1246.5,95.6 1247.0,97.1 1247.5,98.9 1248.0,100.9 1248.5,103.3 1249.0,105.9 1249.5,108.7 1250.0,111.8 1250.5,115.2 1251.0,118.8 1251.5,122.6 1252.0,126.6 1252.5,130.8 1253.0,135.2 1253.5,139.8 1254.0,144.6 1254.5,149.5 1255.0,154.5 1255.5,159.7 1256.0,165.0 1256.5,170.5 1257.0,176.0 1257.5,181.7 1258.0,187.4 1258.5,193.2 1259.0,199.0 1259.5,204.8 1260.0,210.7 1260.5,216.6 1261.0,222.5 1261.5,228.3 1262.0,234.2 1262.5,240.0 1263.0,245.8 1263.5,251.5 1264.0,257.2 1264.5,262.8 1265.0,268.3 1265.5,273.8 1266.0,279.1 1266.5,284.4 1267.0,289.6 1267.5,294.6 1268.0,299.6 1268.5,304.4 1269.0,309.1 1269.5,313.7 1270.0,318.2 1270.5,322.5 1271.0,326.7 1271.5,330.8 1272.0,334.7 1272.5,338.6 1273.0,342.2 1273.5,345.8 1274.0,349.2 1274.5,352.5 1275.0,355.6 1275.5,358.7 1276.0,361.7 1276.5,364.5 1277.0,367.3 1277.5,369.9 1278.0,372.3 1278.5,374.7 1279.0,377.0 1279.5,379.1 1280.0,381.1 1280.5,383.1 1281.0,384.9 1281.5,386.6 1282.0,388.3 1282.5,389.8 1283.0,391.3 1283.5,392.6 1284.0,393.9 1284.5,395.1 1285.0,396.3 1285.5,397.3 1286.0,398.3 1286.5,399.3 1287.0,400.2 1287.5,401.0 1288.0,401.8 1288.5,402.5 1289.0,403.2 1289.5,403.9 1290.0,404.4 1290.5,405.0 1291.0,405.5 1291.5,406.0 1292.0,406.4 1292.5,406.8 1293.0,407.2 1293.5,407.5 1294.0,407.8 1294.5,408.2 1295.0,408.6 1295.5,408.9 1296.0,409.2 1296.5,409.5 1297.0,409.7 1297.5,410.0 1298.0,410.2 1298.5,410.5 1299.0,410.7 1299.5,410.9 1300.0,411.1 1300.5,411.2 1301.0,411.4 1301.5,411.6 1302.0,411.7 1302.5,411.9 1303.0,412.0 1303.5,412.1 1304.0,412.2 1304.5,412.4 1305.0,412.5 1305.5,412.6 1306.0,412.7 1306.5,412.8 1307.0,412.9 1307.5,413.0 1308.0,413.1 1308.5,413.2 1309.0,413.3 1309.5,413.4 1310.0,413.5 1310.5,413.7 1311.0,413.8 1311.5,413.9 1312.0,414.0 1312.5,414.1 1313.0,414.2 1313.5,414.3 1314.0,414.4 1314.5,414.5 1315.0,414.6 1315.5,414.7 1316.0,414.8 1316.5,414.9 1317.0,415.0 1317.5,415.1 1318.0,415.2 1318.5,415.3 1319.0,415.4 1319.5,415.5 1320.0,415.6 1320.5,415.7 1321.0,415.8 1321.5,415.8 1322.0,415.9 1322.5,416.0 1323.0,416.1 1323.5,416.2 1324.0,416.3 1324.5,416.4 1325.0,416.5 1325.5,416.6 1326.0,416.7 1326.5,416.8 1327.0,416.9 1327.5,417.0 1328.0,417.1 1328.5,417.2 1329.0,417.3 1329.5,417.4 1330.0,417.5 1330.5,417.6 1331.0,417.7 1331.5,417.8 1332.0,417.9 1332.5,418.0 1333.0,418.1 1333.5,418.2 1334.0,418.3 1334.5,418.4 1335.0,418.5 1335.5,418.6 1336.0,418.7 1336.5,418.8 1337.0,418.9 1337.5,419.1 1338.0,419.2 1338.5,419.3 1339.0,419.4 1339.5,419.5 1340.0,419.7 1340.5,419.8 1341.0,419.9 1341.5,420.0 1342.0,420.1 1342.5,420.3 1343.0,420.4 1343.5,420.5 1344.0,420.6 1344.5,420.7 1345.0,420.8 1345.5,421.0 1346.0,421.1 1346.5,421.2 1347.0,421.3 1347.5,421.4 1348.0,421.6 1348.5,421.7 1349.0,421.8 1349.5,421.9 1350.0,422.0 1350.5,422.2 1351.0,422.3 1351.5,422.4 1352.0,422.5 1352.5,422.6 1353.0,422.7 1353.5,422.9 1354.0,423.0 1354.5,423.1 1355.0,423.2 1355.5,423.3 1356.0,423.5 1356.5,423.6 1357.0,423.7 1357.5,423.8 1358.0,423.9 1358.5,424.0 1359.0,424.2 1359.5,424.3 1360.0,424.4 1360.5,424.5 1361.0,424.6 1361.5,424.8 1362.0,424.9 1362.5,425.0 1363.0,425.1 1363.5,425.2 1364.0,425.3 1364.5,425.4 1365.0,425.5 1365.5,425.6 1366.0,425.6 1366.5,425.7 1367.0,425.8 1367.5,425.8 1368.0,425.9 1368.5,426.0 1369.0,426.1 1369.5,426.1 1370.0,426.2 1370.5,426.3 1371.0,426.3 1371.5,426.4 1372.0,426.5 1372.5,426.6 1373.0,426.6 1373.5,426.7 1374.0,426.8 1374.5,426.8 1375.0,426.9 1375.5,427.0 1376.0,427.1 1376.5,427.1 1377.0,427.2 1377.5,427.3 1378.0,427.3 1378.5,427.4 1379.0,427.4 1379.5,427.5 1380.0,427.5 1380.5,427.6 1381.0,427.6 1381.5,427.7 1382.0,427.7 1382.5,427.8 1383.0,427.8 1383.5,427.9 1384.0,427.9 1384.5,428.0 1385.0,428.0 1385.5,428.1 1386.0,428.1 1386.5,428.2 1387.0,428.2 1387.5,428.3 1388.0,428.3 1388.5,428.4 1389.0,428.4 1389.5,428.4 1390.0,428.5 1390.5,428.5 1391.0,428.6 1391.5,428.6 1392.0,428.7 1392.5,428.7 1393.0,428.8 1393.5,428.9 1394.0,429.0 1394.5,429.0 1395.0,429.1 1395.5,429.2 1396.0,429.2 1396.5,429.3 1397.0,429.4 1397.5,429.5 1398.0,429.5 1398.5,429.6 1399.0,429.7 1399.5,429.7 1400.0,429.8 1400.5,429.9 1401.0,430.0 1401.5,430.0 1402.0,430.1 1402.5,430.2 1403.0,430.2 1403.5,430.3 1404.0,430.4 1404.5,430.5 1405.0,430.5 1405.5,430.6 1406.0,430.7 1406.5,430.7 1407.0,430.8 1407.5,430.8 1408.0,430.9 1408.5,430.9 1409.0,431.0 1409.5,431.0 1410.0,431.1 1410.5,431.1 1411.0,431.2 1411.5,431.2 1412.0,431.3 1412.5,431.3 1413.0,431.3 1413.5,431.4 1414.0,431.4 1414.5,431.5 1415.0,431.5 1415.5,431.6 1416.0,431.6 1416.5,431.7 1417.0,431.7 1417.5,431.8 1418.0,431.8 1418.5,431.9 1419.0,431.9 1419.5,432.0 1420.0,432.0 1420.5,432.1 1421.0,432.2 1421.5,432.3 1422.0,432.4 1422.5,432.5 1423.0,432.6 1423.5,432.7 1424.0,432.8 1424.5,432.9 1425.0,433.0 1425.5,433.0 1426.0,433.1 1426.5,433.2 1427.0,433.3 1427.5,433.4 1428.0,433.5 1428.5,433.6 1429.0,433.7 1429.5,433.8 1430.0,433.9 1430.5,434.0 1431.0,434.1 1431.5,434.2 1432.0,434.3 1432.5,434.4 1433.0,434.5 1433.5,434.6 1434.0,434.7 1434.5,434.7 1435.0,434.8 1435.5,434.9 1436.0,435.0 1436.5,435.0 1437.0,435.1 1437.5,435.2 1438.0,435.2 1438.5,435.3 1439.0,435.4 1439.5,435.5 1440.0,435.5 1440.5,435.6 1441.0,435.7 1441.5,435.7 1442.0,435.8 1442.5,435.9 1443.0,436.0 1443.5,436.0 1444.0,436.1 1444.5,436.2 1445.0,436.2 1445.5,436.3 1446.0,436.4 1446.5,436.5 1447.0,436.5 1447.5,436.6 1448.0,436.7 1448.5,436.7 1449.0,436.8 1449.5,436.8 1450.0,436.9 1450.5,436.9 1451.0,437.0 1451.5,437.0 1452.0,437.1 1452.5,437.1 1453.0,437.1 1453.5,437.2 1454.0,437.2 1454.5,437.3 1455.0,437.3 1455.5,437.4 1456.0,437.4 1456.5,437.5 1457.0,437.5 1457.5,437.6 1458.0,437.6 1458.5,437.7 1459.0,437.7 1459.5,437.8 1460.0,437.8 1460.5,437.9 1461.0,437.9 1461.5,438.0 1462.0,438.0 1462.5,438.0 1463.0,438.0 1463.5,438.1 1464.0,438.1 1464.5,438.1 1465.0,438.1 1465.5,438.1 1466.0,438.2 1466.5,438.2 1467.0,438.2 1467.5,438.2 1468.0,438.2 1468.5,438.3 1469.0,438.3 1469.5,438.3 1470.0,438.3 1470.5,438.3 1471.0,438.4 1471.5,438.4 1472.0,438.4 1472.5,438.4 1473.0,438.4 1473.5,438.5 1474.0,438.5 1474.5,438.5 1475.0,438.5 1475.5,438.5 1476.0,438.6 1476.5,438.6 1477.0,438.6 1477.5,438.6 1478.0,438.6 1478.5,438.7" fill="none" stroke="#000" stroke-width="4.5" stroke-dasharray="4.5 7.4"/>
</g>
<line x1="1284" y1="109.8" x2="1336.5" y2="109.8" stroke="#000" stroke-width="3.1"/>
<line x1="1285.2" y1="147.4" x2="1330.4" y2="147.4" stroke="#000" stroke-width="3.3" stroke-dasharray="3.4 4.95"/>
<text x="1354.98" y="119.00" font-size="27" textLength="116.21" lengthAdjust="spacingAndGlyphs" fill="#000">Empirical</text>
<text x="1354.95" y="156.50" font-size="27" textLength="71.70" lengthAdjust="spacingAndGlyphs" fill="#000">Fitted</text>
<rect x="1115.90" y="77.30" width="378.75" height="380.20" fill="none" stroke="#000" stroke-width="2.4" stroke-linejoin="miter"/>
<line x1="1132.50" y1="457.50" x2="1132.50" y2="468.50" stroke="#000" stroke-width="2.4"/>
<text x="1122.86" y="503.30" font-size="33" textLength="19.27" lengthAdjust="spacingAndGlyphs" fill="#000">0</text>
<line x1="1181.77" y1="457.50" x2="1181.77" y2="468.50" stroke="#000" stroke-width="2.4"/>
<text x="1171.66" y="503.30" font-size="33" textLength="19.27" lengthAdjust="spacingAndGlyphs" fill="#000">1</text>
<line x1="1231.04" y1="457.50" x2="1231.04" y2="468.50" stroke="#000" stroke-width="2.4"/>
<text x="1221.40" y="503.30" font-size="33" textLength="19.27" lengthAdjust="spacingAndGlyphs" fill="#000">2</text>
<line x1="1280.31" y1="457.50" x2="1280.31" y2="468.50" stroke="#000" stroke-width="2.4"/>
<text x="1270.78" y="503.30" font-size="33" textLength="19.27" lengthAdjust="spacingAndGlyphs" fill="#000">3</text>
<line x1="1329.58" y1="457.50" x2="1329.58" y2="468.50" stroke="#000" stroke-width="2.4"/>
<text x="1320.05" y="503.30" font-size="33" textLength="19.27" lengthAdjust="spacingAndGlyphs" fill="#000">4</text>
<line x1="1378.85" y1="457.50" x2="1378.85" y2="468.50" stroke="#000" stroke-width="2.4"/>
<text x="1369.25" y="503.30" font-size="33" textLength="19.27" lengthAdjust="spacingAndGlyphs" fill="#000">5</text>
<line x1="1428.12" y1="457.50" x2="1428.12" y2="468.50" stroke="#000" stroke-width="2.4"/>
<text x="1418.37" y="503.30" font-size="33" textLength="19.27" lengthAdjust="spacingAndGlyphs" fill="#000">6</text>
<line x1="1477.39" y1="457.50" x2="1477.39" y2="468.50" stroke="#000" stroke-width="2.4"/>
<text x="1467.74" y="503.30" font-size="33" textLength="19.27" lengthAdjust="spacingAndGlyphs" fill="#000">7</text>
<text x="1258.15" y="546.00" font-size="32" textLength="92.82" lengthAdjust="spacingAndGlyphs" fill="#000">TH (s)</text>
<text transform="translate(1098.00,327.70) rotate(-90)" x="-2.90" y="0" font-size="32" textLength="117.87" lengthAdjust="spacingAndGlyphs">Density</text>
<text x="1134.03" y="124.10" font-size="39" font-weight="bold" textLength="32.03" lengthAdjust="spacingAndGlyphs" fill="#000">D</text>
<g clip-path="url(#clipE)">
<line x1="1132.5" y1="955.4" x2="1132.5" y2="574" stroke="#e0e0e0" stroke-width="4.2" stroke-dasharray="16.5 8.45"/>
<line x1="1181.8" y1="955.4" x2="1181.8" y2="574" stroke="#e0e0e0" stroke-width="4.2" stroke-dasharray="16.5 8.45"/>
<line x1="1231.0" y1="955.4" x2="1231.0" y2="574" stroke="#e0e0e0" stroke-width="4.2" stroke-dasharray="16.5 8.45"/>
<line x1="1280.3" y1="955.4" x2="1280.3" y2="574" stroke="#e0e0e0" stroke-width="4.2" stroke-dasharray="16.5 8.45"/>
<line x1="1329.6" y1="955.4" x2="1329.6" y2="574" stroke="#e0e0e0" stroke-width="4.2" stroke-dasharray="16.5 8.45"/>
<line x1="1378.8" y1="955.4" x2="1378.8" y2="574" stroke="#e0e0e0" stroke-width="4.2" stroke-dasharray="16.5 8.45"/>
<line x1="1428.1" y1="955.4" x2="1428.1" y2="574" stroke="#e0e0e0" stroke-width="4.2" stroke-dasharray="16.5 8.45"/>
<line x1="1477.4" y1="955.4" x2="1477.4" y2="574" stroke="#e0e0e0" stroke-width="4.2" stroke-dasharray="16.5 8.45"/>
<line x1="1243.8" y1="955.4" x2="1243.8" y2="574" stroke="#1f77b4" stroke-width="4.5" stroke-dasharray="4.5 7.967"/>
<line x1="1309.4" y1="955.4" x2="1309.4" y2="574" stroke="#d62728" stroke-width="4.5" stroke-dasharray="4.5 7.967"/>
<line x1="1132.5" y1="937.2" x2="1478.9" y2="937.2" stroke="#7f7f7f" stroke-opacity="0.7" stroke-width="4.5"/>
<path d="M1132.5,937.0 C1137.1,937.0 1151.2,937.0 1160.0,937.0 C1168.8,937.0 1179.8,936.9 1185.0,936.8 C1190.2,936.6 1189.7,936.6 1191.4,936.1 C1193.1,935.6 1193.8,934.6 1195.1,933.6 C1196.4,932.6 1198.1,931.8 1199.5,930.1 C1200.9,928.4 1202.0,928.8 1203.7,923.3 C1205.4,917.8 1208.0,907.1 1209.7,897.0 C1211.4,886.9 1212.6,877.0 1214.0,862.7 C1215.4,848.4 1217.0,828.5 1218.3,811.4 C1219.6,794.3 1220.6,775.7 1221.7,760.0 C1222.8,744.3 1224.0,731.3 1225.1,717.0 C1226.2,702.7 1227.2,688.4 1228.5,674.1 C1229.8,659.8 1231.3,641.2 1232.6,631.4 C1233.9,621.5 1235.1,618.6 1236.4,615.0 C1237.7,611.4 1239.3,609.8 1240.6,609.6 C1241.9,609.4 1243.0,610.4 1244.4,614.0 C1245.8,617.6 1247.6,621.4 1249.1,631.4 C1250.6,641.4 1252.3,662.7 1253.3,674.1 C1254.3,685.5 1254.2,689.9 1255.2,700.0 C1256.2,710.1 1258.1,724.0 1259.5,735.0 C1260.9,746.0 1262.2,756.8 1263.4,766.0 C1264.6,775.2 1265.7,782.7 1266.9,790.0 C1268.1,797.3 1269.1,803.3 1270.4,810.0 C1271.7,816.7 1273.2,823.7 1274.6,830.0 C1276.0,836.3 1277.5,842.3 1279.0,848.0 C1280.5,853.7 1282.0,859.2 1283.5,864.0 C1285.0,868.8 1286.3,873.3 1288.2,877.0 C1290.1,880.7 1292.4,883.7 1295.1,886.2 C1297.8,888.7 1302.1,889.7 1304.6,892.0 C1307.1,894.3 1308.5,897.1 1310.3,900.0 C1312.1,902.9 1313.5,906.4 1315.5,909.2 C1317.5,912.0 1319.8,915.7 1322.0,916.8 C1324.2,917.9 1326.2,916.2 1329.0,915.6 C1331.8,915.0 1335.8,913.0 1338.8,913.4 C1341.8,913.8 1344.6,916.1 1347.2,917.7 C1349.8,919.4 1351.7,921.7 1354.3,923.3 C1356.9,924.9 1358.7,926.7 1362.7,927.5 C1366.7,928.3 1373.2,928.0 1378.1,928.2 C1383.0,928.4 1387.4,928.5 1392.1,928.9 C1396.8,929.2 1401.4,929.9 1406.1,930.3 C1410.8,930.6 1416.1,930.4 1420.1,931.0 C1424.1,931.6 1426.4,932.9 1429.9,933.8 C1433.4,934.7 1435.7,935.9 1441.1,936.6 C1446.5,937.3 1455.8,937.6 1462.1,937.8 C1468.4,938.0 1476.1,938.0 1478.9,938.0" fill="none" stroke="#000" stroke-opacity="0.8" stroke-width="4.5" stroke-linejoin="round"/>
<path d="M1132.5,937.8 C1137.1,937.7 1152.1,937.4 1160.0,937.1 C1167.9,936.8 1173.5,936.5 1180.0,936.0 C1186.5,935.5 1192.7,935.4 1199.0,934.1 C1205.3,932.8 1211.7,930.5 1218.0,928.4 C1224.3,926.3 1230.8,924.0 1237.1,921.8 C1243.4,919.6 1249.8,917.0 1256.1,915.1 C1262.4,913.2 1270.0,911.4 1275.1,910.4 C1280.2,909.4 1283.3,909.6 1286.5,909.4 C1289.7,909.2 1290.4,908.9 1294.0,909.2 C1297.6,909.5 1303.3,910.5 1308.0,911.3 C1312.7,912.1 1317.3,913.1 1322.0,914.1 C1326.7,915.1 1331.3,915.9 1336.0,917.0 C1340.7,918.1 1345.3,919.3 1350.0,920.5 C1354.7,921.7 1359.4,923.1 1364.1,924.0 C1368.8,924.9 1373.4,925.5 1378.1,926.1 C1382.8,926.7 1387.4,926.9 1392.1,927.5 C1396.8,928.1 1401.4,929.0 1406.1,929.6 C1410.8,930.2 1415.4,930.3 1420.1,931.0 C1424.8,931.7 1429.4,933.0 1434.1,933.8 C1438.8,934.6 1443.4,935.3 1448.1,935.9 C1452.8,936.5 1457.0,936.9 1462.1,937.3 C1467.2,937.6 1476.1,937.9 1478.9,938.0" fill="none" stroke="#d62728" stroke-opacity="0.8" stroke-width="4.5" stroke-linejoin="round"/>
<polyline points="1132.5,938.1 1133.0,938.1 1133.5,938.1 1134.0,938.1 1134.5,938.1 1135.0,938.1 1135.5,938.1 1136.0,938.1 1136.5,938.1 1137.0,938.1 1137.5,938.1 1138.0,938.1 1138.5,938.1 1139.0,938.1 1139.5,938.1 1140.0,938.1 1140.5,938.1 1141.0,938.1 1141.5,938.1 1142.0,938.1 1142.5,938.1 1143.0,938.1 1143.5,938.1 1144.0,938.1 1144.5,938.1 1145.0,938.1 1145.5,938.1 1146.0,938.1 1146.5,938.1 1147.0,938.1 1147.5,938.1 1148.0,938.1 1148.5,938.1 1149.0,938.1 1149.5,938.1 1150.0,938.1 1150.5,938.1 1151.0,938.1 1151.5,938.1 1152.0,938.1 1152.5,938.1 1153.0,938.1 1153.5,938.1 1154.0,938.1 1154.5,938.1 1155.0,938.1 1155.5,938.1 1156.0,938.1 1156.5,938.1 1157.0,938.1 1157.5,938.1 1158.0,938.1 1158.5,938.1 1159.0,938.1 1159.5,938.1 1160.0,938.1 1160.5,938.1 1161.0,938.1 1161.5,938.1 1162.0,938.1 1162.5,938.1 1163.0,938.1 1163.5,938.1 1164.0,938.1 1164.5,938.1 1165.0,938.1 1165.5,938.1 1166.0,938.1 1166.5,938.1 1167.0,938.1 1167.5,938.1 1168.0,938.1 1168.5,938.1 1169.0,938.1 1169.5,938.1 1170.0,938.1 1170.5,938.1 1171.0,938.1 1171.5,938.1 1172.0,938.1 1172.5,938.1 1173.0,938.1 1173.5,938.1 1174.0,938.1 1174.5,938.0 1175.0,938.0 1175.5,938.0 1176.0,938.0 1176.5,938.0 1177.0,938.0 1177.5,938.0 1178.0,938.0 1178.5,938.0 1179.0,937.9 1179.5,937.9 1180.0,937.9 1180.5,937.9 1181.0,937.8 1181.5,937.8 1182.0,937.8 1182.5,937.7 1183.0,937.7 1183.5,937.6 1184.0,937.6 1184.5,937.5 1185.0,937.5 1185.5,937.4 1186.0,937.3 1186.5,937.2 1187.0,937.1 1187.5,937.0 1188.0,936.9 1188.5,936.8 1189.0,936.6 1189.5,936.5 1190.0,936.3 1190.5,936.1 1191.0,935.9 1191.5,935.7 1192.0,935.5 1192.5,935.2 1193.0,935.0 1193.5,934.7 1194.0,934.3 1194.5,934.0 1195.0,933.6 1195.5,933.2 1196.0,932.7 1196.5,932.2 1197.0,931.7 1197.5,931.2 1198.0,930.5 1198.5,929.9 1199.0,929.2 1199.5,928.4 1200.0,927.6 1200.5,926.8 1201.0,925.8 1201.5,924.9 1202.0,923.8 1202.5,922.7 1203.0,921.5 1203.5,920.2 1204.0,918.9 1204.5,917.4 1205.0,915.9 1205.5,914.3 1206.0,912.6 1206.5,910.8 1207.0,908.9 1207.5,906.9 1208.0,904.8 1208.5,902.5 1209.0,900.2 1209.5,897.7 1210.0,895.2 1210.5,892.5 1211.0,889.6 1211.5,886.7 1212.0,883.6 1212.5,880.4 1213.0,877.0 1213.5,873.5 1214.0,869.9 1214.5,866.1 1215.0,862.2 1215.5,858.1 1216.0,854.0 1216.5,849.6 1217.0,845.2 1217.5,840.5 1218.0,835.8 1218.5,830.9 1219.0,825.9 1219.5,820.8 1220.0,815.5 1220.5,810.2 1221.0,804.7 1221.5,799.1 1222.0,793.4 1222.5,787.6 1223.0,781.7 1223.5,775.7 1224.0,769.7 1224.5,763.6 1225.0,757.4 1225.5,751.2 1226.0,744.9 1226.5,738.6 1227.0,732.3 1227.5,726.0 1228.0,719.7 1228.5,713.4 1229.0,707.2 1229.5,700.9 1230.0,694.8 1230.5,688.7 1231.0,682.6 1231.5,676.7 1232.0,670.9 1232.5,665.2 1233.0,659.6 1233.5,654.2 1234.0,648.9 1234.5,643.8 1235.0,638.9 1235.5,634.1 1236.0,629.6 1236.5,625.3 1237.0,621.2 1237.5,617.3 1238.0,613.7 1238.5,610.4 1239.0,607.3 1239.5,604.5 1240.0,602.0 1240.5,599.8 1241.0,597.8 1241.5,596.2 1242.0,594.9 1242.5,593.8 1243.0,593.1 1243.5,592.7 1244.0,592.6 1244.5,592.8 1245.0,593.4 1245.5,594.2 1246.0,595.4 1246.5,596.8 1247.0,598.6 1247.5,600.6 1248.0,603.0 1248.5,605.6 1249.0,608.5 1249.5,611.7 1250.0,615.2 1250.5,618.9 1251.0,622.8 1251.5,627.0 1252.0,631.4 1252.5,636.0 1253.0,640.8 1253.5,645.8 1254.0,651.0 1254.5,656.3 1255.0,661.8 1255.5,667.4 1256.0,673.2 1256.5,679.1 1257.0,685.0 1257.5,691.1 1258.0,697.2 1258.5,703.4 1259.0,709.7 1259.5,715.9 1260.0,722.2 1260.5,728.5 1261.0,734.9 1261.5,741.2 1262.0,747.4 1262.5,753.7 1263.0,759.9 1263.5,766.0 1264.0,772.1 1264.5,778.1 1265.0,784.1 1265.5,789.9 1266.0,795.7 1266.5,801.3 1267.0,806.9 1267.5,812.3 1268.0,817.7 1268.5,822.9 1269.0,827.9 1269.5,832.9 1270.0,837.7 1270.5,842.4 1271.0,847.0 1271.5,851.4 1272.0,855.6 1272.5,859.8 1273.0,863.8 1273.5,867.6 1274.0,871.3 1274.5,874.9 1275.0,878.4 1275.5,881.7 1276.0,884.8 1276.5,887.9 1277.0,890.8 1277.5,893.6 1278.0,896.2 1278.5,898.7 1279.0,901.2 1279.5,903.4 1280.0,905.6 1280.5,907.7 1281.0,909.7 1281.5,911.5 1282.0,913.3 1282.5,915.0 1283.0,916.5 1283.5,918.0 1284.0,919.4 1284.5,920.7 1285.0,922.0 1285.5,923.1 1286.0,924.2 1286.5,925.3 1287.0,926.2 1287.5,927.1 1288.0,928.0 1288.5,928.7 1289.0,929.5 1289.5,930.2 1290.0,930.8 1290.5,931.4 1291.0,931.9 1291.5,932.4 1292.0,932.9 1292.5,933.3 1293.0,933.7 1293.5,934.1 1294.0,934.5 1294.5,934.8 1295.0,935.1 1295.5,935.3 1296.0,935.6 1296.5,935.8 1297.0,936.0 1297.5,936.2 1298.0,936.4 1298.5,936.6 1299.0,936.7 1299.5,936.8 1300.0,937.0 1300.5,937.1 1301.0,937.2 1301.5,937.3 1302.0,937.3 1302.5,937.4 1303.0,937.5 1303.5,937.6 1304.0,937.6 1304.5,937.7 1305.0,937.7 1305.5,937.7 1306.0,937.8 1306.5,937.8 1307.0,937.8 1307.5,937.9 1308.0,937.9 1308.5,937.9 1309.0,937.9 1309.5,938.0 1310.0,938.0 1310.5,938.0 1311.0,938.0 1311.5,938.0 1312.0,938.0 1312.5,938.0 1313.0,938.0 1313.5,938.0 1314.0,938.1 1314.5,938.1 1315.0,938.1 1315.5,938.1 1316.0,938.1 1316.5,938.1 1317.0,938.1 1317.5,938.1 1318.0,938.1 1318.5,938.1 1319.0,938.1 1319.5,938.1 1320.0,938.1 1320.5,938.1 1321.0,938.1 1321.5,938.1 1322.0,938.1 1322.5,938.1 1323.0,938.1 1323.5,938.1 1324.0,938.1 1324.5,938.1 1325.0,938.1 1325.5,938.1 1326.0,938.1 1326.5,938.1 1327.0,938.1 1327.5,938.1 1328.0,938.1 1328.5,938.1 1329.0,938.1 1329.5,938.1 1330.0,938.1 1330.5,938.1 1331.0,938.1 1331.5,938.1 1332.0,938.1 1332.5,938.1 1333.0,938.1 1333.5,938.1 1334.0,938.1 1334.5,938.1 1335.0,938.1 1335.5,938.1 1336.0,938.1 1336.5,938.1 1337.0,938.1 1337.5,938.1 1338.0,938.1 1338.5,938.1 1339.0,938.1 1339.5,938.1 1340.0,938.1 1340.5,938.1 1341.0,938.1 1341.5,938.1 1342.0,938.1 1342.5,938.1 1343.0,938.1 1343.5,938.1 1344.0,938.1 1344.5,938.1 1345.0,938.1 1345.5,938.1 1346.0,938.1 1346.5,938.1 1347.0,938.1 1347.5,938.1 1348.0,938.1 1348.5,938.1 1349.0,938.1 1349.5,938.1 1350.0,938.1 1350.5,938.1 1351.0,938.1 1351.5,938.1 1352.0,938.1 1352.5,938.1 1353.0,938.1 1353.5,938.1 1354.0,938.1 1354.5,938.1 1355.0,938.1 1355.5,938.1 1356.0,938.1 1356.5,938.1 1357.0,938.1 1357.5,938.1 1358.0,938.1 1358.5,938.1 1359.0,938.1 1359.5,938.1 1360.0,938.1 1360.5,938.1 1361.0,938.1 1361.5,938.1 1362.0,938.1 1362.5,938.1 1363.0,938.1 1363.5,938.1 1364.0,938.1 1364.5,938.1 1365.0,938.1 1365.5,938.1 1366.0,938.1 1366.5,938.1 1367.0,938.1 1367.5,938.1 1368.0,938.1 1368.5,938.1 1369.0,938.1 1369.5,938.1 1370.0,938.1 1370.5,938.1 1371.0,938.1 1371.5,938.1 1372.0,938.1 1372.5,938.1 1373.0,938.1 1373.5,938.1 1374.0,938.1 1374.5,938.1 1375.0,938.1 1375.5,938.1 1376.0,938.1 1376.5,938.1 1377.0,938.1 1377.5,938.1 1378.0,938.1 1378.5,938.1 1379.0,938.1 1379.5,938.1 1380.0,938.1 1380.5,938.1 1381.0,938.1 1381.5,938.1 1382.0,938.1 1382.5,938.1 1383.0,938.1 1383.5,938.1 1384.0,938.1 1384.5,938.1 1385.0,938.1 1385.5,938.1 1386.0,938.1 1386.5,938.1 1387.0,938.1 1387.5,938.1 1388.0,938.1 1388.5,938.1 1389.0,938.1 1389.5,938.1 1390.0,938.1 1390.5,938.1 1391.0,938.1 1391.5,938.1 1392.0,938.1 1392.5,938.1 1393.0,938.1 1393.5,938.1 1394.0,938.1 1394.5,938.1 1395.0,938.1 1395.5,938.1 1396.0,938.1 1396.5,938.1 1397.0,938.1 1397.5,938.1 1398.0,938.1 1398.5,938.1 1399.0,938.1 1399.5,938.1 1400.0,938.1 1400.5,938.1 1401.0,938.1 1401.5,938.1 1402.0,938.1 1402.5,938.1 1403.0,938.1 1403.5,938.1 1404.0,938.1 1404.5,938.1 1405.0,938.1 1405.5,938.1 1406.0,938.1 1406.5,938.1 1407.0,938.1 1407.5,938.1 1408.0,938.1 1408.5,938.1 1409.0,938.1 1409.5,938.1 1410.0,938.1 1410.5,938.1 1411.0,938.1 1411.5,938.1 1412.0,938.1 1412.5,938.1 1413.0,938.1 1413.5,938.1 1414.0,938.1 1414.5,938.1 1415.0,938.1 1415.5,938.1 1416.0,938.1 1416.5,938.1 1417.0,938.1 1417.5,938.1 1418.0,938.1 1418.5,938.1 1419.0,938.1 1419.5,938.1 1420.0,938.1 1420.5,938.1 1421.0,938.1 1421.5,938.1 1422.0,938.1 1422.5,938.1 1423.0,938.1 1423.5,938.1 1424.0,938.1 1424.5,938.1 1425.0,938.1 1425.5,938.1 1426.0,938.1 1426.5,938.1 1427.0,938.1 1427.5,938.1 1428.0,938.1 1428.5,938.1 1429.0,938.1 1429.5,938.1 1430.0,938.1 1430.5,938.1 1431.0,938.1 1431.5,938.1 1432.0,938.1 1432.5,938.1 1433.0,938.1 1433.5,938.1 1434.0,938.1 1434.5,938.1 1435.0,938.1 1435.5,938.1 1436.0,938.1 1436.5,938.1 1437.0,938.1 1437.5,938.1 1438.0,938.1 1438.5,938.1 1439.0,938.1 1439.5,938.1 1440.0,938.1 1440.5,938.1 1441.0,938.1 1441.5,938.1 1442.0,938.1 1442.5,938.1 1443.0,938.1 1443.5,938.1 1444.0,938.1 1444.5,938.1 1445.0,938.1 1445.5,938.1 1446.0,938.1 1446.5,938.1 1447.0,938.1 1447.5,938.1 1448.0,938.1 1448.5,938.1 1449.0,938.1 1449.5,938.1 1450.0,938.1 1450.5,938.1 1451.0,938.1 1451.5,938.1 1452.0,938.1 1452.5,938.1 1453.0,938.1 1453.5,938.1 1454.0,938.1 1454.5,938.1 1455.0,938.1 1455.5,938.1 1456.0,938.1 1456.5,938.1 1457.0,938.1 1457.5,938.1 1458.0,938.1 1458.5,938.1 1459.0,938.1 1459.5,938.1 1460.0,938.1 1460.5,938.1 1461.0,938.1 1461.5,938.1 1462.0,938.1 1462.5,938.1 1463.0,938.1 1463.5,938.1 1464.0,938.1 1464.5,938.1 1465.0,938.1 1465.5,938.1 1466.0,938.1 1466.5,938.1 1467.0,938.1 1467.5,938.1 1468.0,938.1 1468.5,938.1 1469.0,938.1 1469.5,938.1 1470.0,938.1 1470.5,938.1 1471.0,938.1 1471.5,938.1 1472.0,938.1 1472.5,938.1 1473.0,938.1 1473.5,938.1 1474.0,938.1 1474.5,938.1 1475.0,938.1 1475.5,938.1 1476.0,938.1 1476.5,938.1 1477.0,938.1 1477.5,938.1 1478.0,938.1 1478.5,938.1" fill="none" stroke="#1f77b4" stroke-opacity="0.85" stroke-width="4.3" stroke-linejoin="round"/>
</g>
<rect x="1115.90" y="574.85" width="378.75" height="380.55" fill="none" stroke="#000" stroke-width="2.4" stroke-linejoin="miter"/>
<line x1="1132.50" y1="955.40" x2="1132.50" y2="966.40" stroke="#000" stroke-width="2.4"/>
<text x="1122.86" y="1001.00" font-size="33" textLength="19.27" lengthAdjust="spacingAndGlyphs" fill="#000">0</text>
<line x1="1181.77" y1="955.40" x2="1181.77" y2="966.40" stroke="#000" stroke-width="2.4"/>
<text x="1171.66" y="1001.00" font-size="33" textLength="19.27" lengthAdjust="spacingAndGlyphs" fill="#000">1</text>
<line x1="1231.04" y1="955.40" x2="1231.04" y2="966.40" stroke="#000" stroke-width="2.4"/>
<text x="1221.40" y="1001.00" font-size="33" textLength="19.27" lengthAdjust="spacingAndGlyphs" fill="#000">2</text>
<line x1="1280.31" y1="955.40" x2="1280.31" y2="966.40" stroke="#000" stroke-width="2.4"/>
<text x="1270.78" y="1001.00" font-size="33" textLength="19.27" lengthAdjust="spacingAndGlyphs" fill="#000">3</text>
<line x1="1329.58" y1="955.40" x2="1329.58" y2="966.40" stroke="#000" stroke-width="2.4"/>
<text x="1320.05" y="1001.00" font-size="33" textLength="19.27" lengthAdjust="spacingAndGlyphs" fill="#000">4</text>
<line x1="1378.85" y1="955.40" x2="1378.85" y2="966.40" stroke="#000" stroke-width="2.4"/>
<text x="1369.25" y="1001.00" font-size="33" textLength="19.27" lengthAdjust="spacingAndGlyphs" fill="#000">5</text>
<line x1="1428.12" y1="955.40" x2="1428.12" y2="966.40" stroke="#000" stroke-width="2.4"/>
<text x="1418.37" y="1001.00" font-size="33" textLength="19.27" lengthAdjust="spacingAndGlyphs" fill="#000">6</text>
<line x1="1477.39" y1="955.40" x2="1477.39" y2="966.40" stroke="#000" stroke-width="2.4"/>
<text x="1467.74" y="1001.00" font-size="33" textLength="19.27" lengthAdjust="spacingAndGlyphs" fill="#000">7</text>
<text x="1258.15" y="1043.30" font-size="32" textLength="92.82" lengthAdjust="spacingAndGlyphs" fill="#000">TH (s)</text>
<text transform="translate(1098.00,824.70) rotate(-90)" x="-2.88" y="0" font-size="32" textLength="117.15" lengthAdjust="spacingAndGlyphs">Density</text>
<text x="1134.26" y="621.50" font-size="39" font-weight="bold" textLength="24.37" lengthAdjust="spacingAndGlyphs" fill="#000">E</text>
</svg>
</body></html>
